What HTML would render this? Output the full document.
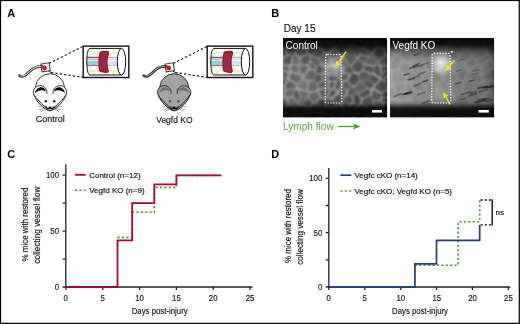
<!DOCTYPE html>
<html><head><meta charset="utf-8">
<style>
html,body{margin:0;padding:0;background:#fff;}
body{width:520px;height:324px;overflow:hidden;}
svg{display:block;font-family:"Liberation Sans",sans-serif;will-change:transform;}
.dk text, text.dk{stroke:#151515;stroke-width:0.18px;}
</style></head>
<body>
<svg width="520" height="324" viewBox="0 0 520 324" style="color:#fff;--ear:#000;--eye:#000">
<defs>
  <linearGradient id="v1" x1="0" y1="0" x2="0" y2="1">
    <stop offset="0" stop-color="#080808"/>
    <stop offset="0.07" stop-color="#101010"/>
    <stop offset="0.2" stop-color="#555"/>
    <stop offset="0.3" stop-color="#707070"/>
    <stop offset="0.75" stop-color="#6a6a6a"/>
    <stop offset="0.84" stop-color="#3a3a3a"/>
    <stop offset="0.88" stop-color="#141414"/>
    <stop offset="1" stop-color="#0c0c0c"/>
  </linearGradient>
  <linearGradient id="v2" x1="0" y1="0" x2="0" y2="1">
    <stop offset="0" stop-color="#080808"/>
    <stop offset="0.06" stop-color="#151515"/>
    <stop offset="0.18" stop-color="#6a6a6a"/>
    <stop offset="0.3" stop-color="#8a8a8a"/>
    <stop offset="0.7" stop-color="#808080"/>
    <stop offset="0.82" stop-color="#404040"/>
    <stop offset="0.88" stop-color="#151515"/>
    <stop offset="1" stop-color="#0c0c0c"/>
  </linearGradient>
  <radialGradient id="glow" cx="0.5" cy="0.5" r="0.5">
    <stop offset="0" stop-color="#fff" stop-opacity="0.55"/>
    <stop offset="1" stop-color="#fff" stop-opacity="0"/>
  </radialGradient>
  <pattern id="hex" patternUnits="userSpaceOnUse" x="86.5" y="46" width="6.93" height="12.00">
    <path d="M0 2.00 L3.46 0 L6.93 2.00 L6.93 6.00 L3.46 8.00 L0 6.00 Z M3.46 8.00 L3.46 12.00" fill="none" stroke="#d3de72" stroke-width="0.8"/>
  </pattern>
  <clipPath id="cyl"><path d="M121.5 48.4 H90 C87.8 48.4 86.8 55 86.8 61.7 C86.8 68.4 87.8 75 90 75 H121.5 Z"/></clipPath>
  <filter id="cellf" x="0" y="0" width="1" height="1" color-interpolation-filters="sRGB">
    <feTurbulence type="fractalNoise" baseFrequency="0.11" numOctaves="2" seed="7" result="n"/>
    <feColorMatrix type="matrix" values="0 0 0 0 1  0 0 0 0 1  0 0 0 0 1  1 0 0 0 0" in="n"/>
    <feComponentTransfer><feFuncA type="table" tableValues="0 0 0 0.9 0 0 0"/></feComponentTransfer>
    <feGaussianBlur stdDeviation="0.5"/>
  </filter>
  <filter id="cellf2" x="0" y="0" width="1" height="1" color-interpolation-filters="sRGB">
    <feTurbulence type="fractalNoise" baseFrequency="0.1" numOctaves="2" seed="19" result="n"/>
    <feColorMatrix type="matrix" values="0 0 0 0 1  0 0 0 0 1  0 0 0 0 1  1 0 0 0 0" in="n"/>
    <feComponentTransfer><feFuncA type="table" tableValues="0 0 0 0.9 0 0 0"/></feComponentTransfer>
    <feGaussianBlur stdDeviation="0.5"/>
  </filter>
  <filter id="blotf" x="0" y="0" width="1" height="1" color-interpolation-filters="sRGB">
    <feTurbulence type="fractalNoise" baseFrequency="0.08" numOctaves="2" seed="3" result="n"/>
    <feColorMatrix type="matrix" values="0 0 0 0 0  0 0 0 0 0  0 0 0 0 0  -1.6 0 0 0 1.0" in="n"/>
  </filter>
  <linearGradient id="mg" x1="0" y1="0" x2="0" y2="1">
    <stop offset="0.05" stop-color="#000"/>
    <stop offset="0.25" stop-color="#fff"/>
    <stop offset="0.78" stop-color="#fff"/>
    <stop offset="0.88" stop-color="#000"/>
  </linearGradient>
  <mask id="mk1" maskUnits="userSpaceOnUse" x="283" y="38" width="104.2" height="79.5"><rect x="283" y="38" width="104.2" height="79.5" fill="url(#mg)"/></mask>
  <mask id="mk2" maskUnits="userSpaceOnUse" x="390" y="38" width="104.2" height="79.5"><rect x="390" y="38" width="104.2" height="79.5" fill="url(#mg)"/></mask>
</defs>

<!-- frame -->
<rect x="0.5" y="0.5" width="518.8" height="322.8" fill="#fff" stroke="#000" stroke-width="1.2"/>

<!-- panel labels -->
<g font-weight="bold" font-size="11" fill="#000">
  <text x="7.3" y="17">A</text>
  <text x="271.3" y="17">B</text>
  <text x="7.2" y="158">C</text>
  <text x="271.2" y="158.3">D</text>
</g>

<!-- ===== Panel B ===== -->
<text class="dk" x="283.8" y="32.1" font-size="10" fill="#1a1a1a">Day 15</text>
<defs><linearGradient id="mch" x1="0" y1="0" x2="1" y2="0"><stop offset="0.000" stop-color="rgb(125,125,125)"/><stop offset="0.150" stop-color="rgb(122,122,122)"/><stop offset="0.300" stop-color="rgb(112,112,112)"/><stop offset="0.400" stop-color="rgb(110,110,110)"/><stop offset="0.500" stop-color="rgb(115,115,115)"/><stop offset="0.600" stop-color="rgb(110,110,110)"/><stop offset="0.750" stop-color="rgb(106,106,106)"/><stop offset="0.920" stop-color="rgb(104,104,104)"/><stop offset="0.970" stop-color="rgb(85,85,85)"/><stop offset="1.000" stop-color="rgb(65,65,65)"/></linearGradient><linearGradient id="mcv" x1="0" y1="0" x2="0" y2="1"><stop offset="0.000" stop-color="#000" stop-opacity="0.900"/><stop offset="0.070" stop-color="#000" stop-opacity="0.880"/><stop offset="0.100" stop-color="#000" stop-opacity="0.780"/><stop offset="0.140" stop-color="#000" stop-opacity="0.550"/><stop offset="0.190" stop-color="#000" stop-opacity="0.280"/><stop offset="0.250" stop-color="#000" stop-opacity="0.080"/><stop offset="0.300" stop-color="#000" stop-opacity="0.000"/><stop offset="0.780" stop-color="#000" stop-opacity="0.000"/><stop offset="0.820" stop-color="#000" stop-opacity="0.150"/><stop offset="0.850" stop-color="#000" stop-opacity="0.450"/><stop offset="0.875" stop-color="#000" stop-opacity="0.780"/><stop offset="0.900" stop-color="#000" stop-opacity="0.870"/><stop offset="1.000" stop-color="#000" stop-opacity="0.890"/></linearGradient><clipPath id="mcc"><rect x="283" y="38" width="104.2" height="79.5"/></clipPath><filter id="mcb1" x="-5%" y="-5%" width="110%" height="110%"><feGaussianBlur stdDeviation="1.8"/></filter><filter id="mcb2" x="-5%" y="-5%" width="110%" height="110%"><feGaussianBlur stdDeviation="0.8"/></filter><radialGradient id="mcg0"><stop offset="0" stop-color="#fff" stop-opacity="0.5"/><stop offset="0.5" stop-color="#fff" stop-opacity="0.275"/><stop offset="1" stop-color="#fff" stop-opacity="0"/></radialGradient><radialGradient id="mcg1"><stop offset="0" stop-color="#fff" stop-opacity="0.15"/><stop offset="0.5" stop-color="#fff" stop-opacity="0.083"/><stop offset="1" stop-color="#fff" stop-opacity="0"/></radialGradient><linearGradient id="mvh" x1="0" y1="0" x2="1" y2="0"><stop offset="0.000" stop-color="rgb(165,165,165)"/><stop offset="0.150" stop-color="rgb(160,160,160)"/><stop offset="0.300" stop-color="rgb(148,148,148)"/><stop offset="0.420" stop-color="rgb(142,142,142)"/><stop offset="0.550" stop-color="rgb(145,145,145)"/><stop offset="0.650" stop-color="rgb(132,132,132)"/><stop offset="0.800" stop-color="rgb(126,126,126)"/><stop offset="0.920" stop-color="rgb(120,120,120)"/><stop offset="0.970" stop-color="rgb(100,100,100)"/><stop offset="1.000" stop-color="rgb(78,78,78)"/></linearGradient><linearGradient id="mvv" x1="0" y1="0" x2="0" y2="1"><stop offset="0.000" stop-color="#000" stop-opacity="0.900"/><stop offset="0.070" stop-color="#000" stop-opacity="0.880"/><stop offset="0.100" stop-color="#000" stop-opacity="0.750"/><stop offset="0.140" stop-color="#000" stop-opacity="0.500"/><stop offset="0.190" stop-color="#000" stop-opacity="0.250"/><stop offset="0.250" stop-color="#000" stop-opacity="0.070"/><stop offset="0.300" stop-color="#000" stop-opacity="0.000"/><stop offset="0.780" stop-color="#000" stop-opacity="0.000"/><stop offset="0.820" stop-color="#000" stop-opacity="0.200"/><stop offset="0.850" stop-color="#000" stop-opacity="0.500"/><stop offset="0.880" stop-color="#000" stop-opacity="0.800"/><stop offset="0.910" stop-color="#000" stop-opacity="0.880"/><stop offset="1.000" stop-color="#000" stop-opacity="0.900"/></linearGradient><clipPath id="mvc"><rect x="390" y="38" width="104.2" height="79.5"/></clipPath><filter id="mvb1" x="-5%" y="-5%" width="110%" height="110%"><feGaussianBlur stdDeviation="1.8"/></filter><filter id="mvb2" x="-5%" y="-5%" width="110%" height="110%"><feGaussianBlur stdDeviation="0.8"/></filter><filter id="mvb3" x="-5%" y="-5%" width="110%" height="110%"><feGaussianBlur stdDeviation="0.75"/></filter><radialGradient id="mvg0"><stop offset="0" stop-color="#fff" stop-opacity="0.85"/><stop offset="0.5" stop-color="#fff" stop-opacity="0.468"/><stop offset="1" stop-color="#fff" stop-opacity="0"/></radialGradient><radialGradient id="mvg1"><stop offset="0" stop-color="#fff" stop-opacity="0.2"/><stop offset="0.5" stop-color="#fff" stop-opacity="0.110"/><stop offset="1" stop-color="#fff" stop-opacity="0"/></radialGradient></defs>
<g clip-path="url(#mcc)">
<rect x="283" y="38" width="104.2" height="79.5" fill="url(#mch)"/>
<g filter="url(#mcb1)">
<path d="M280.1 28.6 L274.6 24.9 L271.3 29.4 L278.6 33.7Z" fill="#000" fill-opacity="0.27"/>
<path d="M347.2 28.7 L349.9 25.7 L355.9 26.1 L357.1 32.0 L352.2 35.4Z" fill="#000" fill-opacity="0.21"/>
<path d="M363.1 34.8 L358.5 32.0 L357.4 26.1 L359.3 23.8 L363.3 23.7 L368.0 29.5 L364.5 35.0Z" fill="#000" fill-opacity="0.25"/>
<path d="M289.5 30.5 L283.3 38.1 L279.5 36.4 L279.6 34.2 L281.1 29.2 L282.1 28.7Z" fill="#000" fill-opacity="0.16"/>
<path d="M296.2 33.9 L297.1 37.3 L296.8 37.9 L294.9 39.8 L286.3 40.2 L284.8 38.6 L291.0 31.0 L292.7 30.7Z" fill="#000" fill-opacity="0.11"/>
<path d="M304.4 27.4 L298.0 33.5 L298.9 37.0 L307.2 38.1 L308.3 37.3 L309.2 30.8Z" fill="#000" fill-opacity="0.26"/>
<path d="M311.7 30.0 L310.5 30.6 L309.6 37.2 L317.3 37.8 L314.1 29.5Z" fill="#000" fill-opacity="0.21"/>
<path d="M318.5 27.0 L323.0 33.3 L320.5 38.7 L318.3 37.9 L315.1 29.5Z" fill="#000" fill-opacity="0.32"/>
<path d="M324.4 33.8 L330.9 31.1 L333.7 34.4 L333.7 34.9 L331.4 41.3 L322.5 40.8 L321.9 39.2Z" fill="#000" fill-opacity="0.16"/>
<path d="M340.2 40.4 L335.3 34.8 L335.3 34.3 L341.4 33.6 L343.3 36.9Z" fill="#000" fill-opacity="0.30"/>
<path d="M344.4 36.6 L342.5 33.3 L344.7 30.0 L346.3 29.4 L351.3 36.1 L349.7 39.3Z" fill="#000" fill-opacity="0.34"/>
<path d="M351.7 44.1 L351.9 44.1 L362.0 36.4 L362.1 36.2 L357.5 33.4 L352.6 36.8 L351.0 39.9Z" fill="#000" fill-opacity="0.32"/>
<path d="M374.0 29.1 L369.3 30.4 L365.8 35.9 L368.2 39.0 L374.4 40.4Z" fill="#000" fill-opacity="0.33"/>
<path d="M383.0 34.6 L376.3 40.7 L375.6 40.2 L375.2 28.9 L376.4 27.9 L378.4 27.8 L382.8 33.7Z" fill="#000" fill-opacity="0.14"/>
<path d="M388.7 36.5 L387.8 36.8 L384.4 34.7 L384.3 33.7 L388.8 29.5 L393.3 30.3Z" fill="#000" fill-opacity="0.14"/>
<path d="M397.4 37.9 L401.0 33.0 L395.1 30.1 L394.4 30.3 L389.9 36.5Z" fill="#000" fill-opacity="0.16"/>
<path d="M282.8 39.6 L279.0 38.0 L273.7 41.3 L274.5 45.6 L278.0 48.1 L283.6 47.4 L284.3 41.2Z" fill="#000" fill-opacity="0.19"/>
<path d="M294.4 41.1 L293.7 45.0 L286.2 48.9 L285.0 47.7 L285.8 41.5Z" fill="#000" fill-opacity="0.13"/>
<path d="M297.5 39.2 L302.3 47.9 L296.1 49.0 L295.0 44.9 L295.6 41.1Z" fill="#000" fill-opacity="0.14"/>
<path d="M307.1 39.5 L308.3 47.2 L307.2 49.8 L303.3 47.8 L298.5 39.0 L298.8 38.4Z" fill="#000" fill-opacity="0.11"/>
<path d="M317.7 39.1 L310.0 38.4 L308.9 39.1 L310.0 46.9 L320.1 43.7 L320.5 41.5 L319.9 39.9Z" fill="#000" fill-opacity="0.32"/>
<path d="M333.7 48.1 L333.9 46.9 L331.2 42.9 L322.3 42.4 L321.8 44.6 L322.3 47.1 L325.2 52.4 L327.3 52.9Z" fill="#000" fill-opacity="0.19"/>
<path d="M339.8 41.3 L334.9 35.7 L332.6 42.1 L335.3 46.1 L339.4 44.0Z" fill="#000" fill-opacity="0.25"/>
<path d="M341.4 41.5 L344.4 37.9 L349.7 40.6 L350.4 44.7 L350.2 44.8 L348.6 46.0 L340.9 44.2Z" fill="#000" fill-opacity="0.21"/>
<path d="M362.3 36.9 L352.2 44.7 L357.6 46.0Z" fill="#000" fill-opacity="0.28"/>
<path d="M363.7 47.3 L367.2 40.0 L364.7 36.9 L363.2 36.7 L363.2 36.8 L358.5 45.8 L361.7 47.9Z" fill="#000" fill-opacity="0.29"/>
<path d="M372.2 52.4 L376.8 46.3 L375.4 42.5 L374.7 42.0 L368.5 40.6 L365.0 47.9Z" fill="#000" fill-opacity="0.19"/>
<path d="M383.7 36.0 L377.0 42.0 L378.4 45.8 L383.1 47.3 L387.5 44.4 L387.1 38.1Z" fill="#000" fill-opacity="0.23"/>
<path d="M396.9 39.1 L396.4 44.0 L394.2 45.7 L389.0 44.3 L388.5 38.0 L389.4 37.7Z" fill="#000" fill-opacity="0.13"/>
<path d="M272.2 58.0 L277.1 54.3 L277.1 49.5 L273.6 47.0 L268.2 52.9Z" fill="#000" fill-opacity="0.17"/>
<path d="M287.0 54.4 L283.7 57.4 L278.5 54.3 L278.5 49.5 L284.1 48.8 L285.3 50.0Z" fill="#000" fill-opacity="0.16"/>
<path d="M294.4 54.2 L291.9 55.0 L288.3 54.2 L286.6 49.9 L294.2 46.0 L295.3 50.1Z" fill="#000" fill-opacity="0.18"/>
<path d="M300.8 57.0 L295.9 54.4 L296.8 50.3 L303.0 49.2 L306.9 51.2 L307.3 53.9Z" fill="#000" fill-opacity="0.18"/>
<path d="M310.4 54.6 L320.2 47.5 L319.7 45.0 L309.6 48.2 L308.6 50.8 L309.0 53.5Z" fill="#000" fill-opacity="0.24"/>
<path d="M311.4 55.6 L318.9 57.8 L323.7 53.4 L320.8 48.1 L311.1 55.2Z" fill="#000" fill-opacity="0.18"/>
<path d="M334.7 49.2 L328.3 54.0 L331.3 59.0 L340.0 55.3Z" fill="#000" fill-opacity="0.18"/>
<path d="M335.9 48.7 L336.1 47.5 L340.2 45.4 L347.8 47.3 L344.7 54.2 L343.3 55.5 L342.9 55.5 L341.2 54.8Z" fill="#000" fill-opacity="0.30"/>
<path d="M350.8 46.1 L355.2 56.4 L346.1 54.2 L349.1 47.2Z" fill="#000" fill-opacity="0.10"/>
<path d="M359.2 54.0 L357.3 57.2 L356.0 56.2 L351.6 45.9 L351.7 45.8 L352.0 45.8 L357.3 47.1 L360.6 49.1Z" fill="#000" fill-opacity="0.10"/>
<path d="M369.6 56.1 L360.8 54.4 L362.3 49.5 L364.2 49.0 L371.4 53.6 L371.4 54.8Z" fill="#000" fill-opacity="0.12"/>
<path d="M373.1 54.9 L377.8 60.3 L384.8 54.9 L382.4 49.0 L377.7 47.5 L373.1 53.6Z" fill="#000" fill-opacity="0.31"/>
<path d="M393.9 54.7 L393.8 47.1 L388.5 45.8 L384.1 48.6 L386.5 54.6 L390.6 56.3Z" fill="#000" fill-opacity="0.25"/>
<path d="M282.9 58.5 L277.8 55.5 L272.8 59.2 L272.9 59.8 L279.7 65.1 L281.8 63.6Z" fill="#000" fill-opacity="0.28"/>
<path d="M291.2 64.3 L291.4 56.4 L287.8 55.6 L284.4 58.6 L283.3 63.7 L289.7 65.4Z" fill="#000" fill-opacity="0.33"/>
<path d="M292.5 64.3 L292.6 56.4 L295.1 55.6 L300.0 58.2 L299.5 63.7 L298.8 64.6Z" fill="#000" fill-opacity="0.15"/>
<path d="M301.1 63.5 L307.7 64.7 L309.6 60.9 L309.8 56.4 L309.5 56.0 L308.1 54.9 L301.5 58.0Z" fill="#000" fill-opacity="0.32"/>
<path d="M310.9 61.2 L317.0 66.5 L319.6 64.3 L318.6 59.0 L311.1 56.7Z" fill="#000" fill-opacity="0.16"/>
<path d="M327.1 54.8 L325.0 54.4 L320.2 58.8 L321.1 64.1 L326.7 66.0 L330.2 63.5 L330.1 59.8Z" fill="#000" fill-opacity="0.23"/>
<path d="M340.4 56.3 L342.1 57.1 L337.3 65.5 L336.5 65.7 L331.8 63.7 L331.7 60.0Z" fill="#000" fill-opacity="0.26"/>
<path d="M348.2 65.0 L343.6 57.2 L343.1 57.2 L338.2 65.7 L343.1 67.4Z" fill="#000" fill-opacity="0.29"/>
<path d="M356.6 58.6 L355.3 57.6 L346.2 55.5 L344.8 56.8 L349.5 64.6 L350.9 65.1 L356.7 58.9Z" fill="#000" fill-opacity="0.16"/>
<path d="M368.8 56.9 L363.6 62.5 L358.2 58.7 L358.2 58.4 L360.1 55.2Z" fill="#000" fill-opacity="0.22"/>
<path d="M370.3 57.4 L365.1 63.0 L365.3 64.2 L374.3 65.4 L376.9 63.3 L376.8 61.5 L372.2 56.1Z" fill="#000" fill-opacity="0.11"/>
<path d="M389.7 57.8 L389.1 65.2 L380.2 64.4 L378.7 63.3 L378.6 61.5 L385.6 56.1Z" fill="#000" fill-opacity="0.17"/>
<path d="M397.8 64.6 L390.7 65.3 L390.6 65.2 L391.2 57.8 L394.5 56.1 L396.3 56.7Z" fill="#000" fill-opacity="0.34"/>
<path d="M275.7 71.8 L276.9 71.3 L278.3 68.8 L279.1 66.2 L272.3 60.9 L267.5 65.9 L268.8 68.6Z" fill="#000" fill-opacity="0.32"/>
<path d="M289.3 66.6 L282.9 64.8 L280.8 66.4 L280.0 68.9 L289.2 72.6 L289.9 71.8Z" fill="#000" fill-opacity="0.24"/>
<path d="M292.1 65.5 L298.5 65.8 L299.1 72.8 L291.3 71.8 L290.7 66.6Z" fill="#000" fill-opacity="0.29"/>
<path d="M299.8 65.9 L300.5 65.0 L307.1 66.2 L308.2 69.1 L302.6 75.8 L300.4 72.9Z" fill="#000" fill-opacity="0.32"/>
<path d="M308.4 65.8 L309.5 68.7 L315.1 69.5 L316.4 67.2 L310.3 62.0Z" fill="#000" fill-opacity="0.18"/>
<path d="M320.3 65.6 L325.9 67.5 L325.9 72.2 L320.3 73.3 L317.0 72.8 L316.4 70.0 L317.7 67.7Z" fill="#000" fill-opacity="0.34"/>
<path d="M327.4 67.5 L327.5 72.2 L328.6 74.2 L335.1 73.8 L335.6 67.0 L330.9 65.0Z" fill="#000" fill-opacity="0.21"/>
<path d="M339.2 76.8 L336.4 73.9 L336.9 67.2 L337.6 66.9 L342.5 68.7 L342.5 72.4Z" fill="#000" fill-opacity="0.14"/>
<path d="M343.9 72.2 L343.8 68.5 L349.0 66.1 L350.5 66.7 L353.0 71.7 L350.1 73.9Z" fill="#000" fill-opacity="0.23"/>
<path d="M357.8 60.0 L352.0 66.2 L354.6 71.3 L358.2 72.8 L362.3 69.7 L363.4 65.0 L363.1 63.8Z" fill="#000" fill-opacity="0.24"/>
<path d="M364.9 65.4 L373.9 66.6 L371.7 72.6 L370.4 72.9 L363.8 70.1Z" fill="#000" fill-opacity="0.27"/>
<path d="M380.0 77.3 L373.0 72.6 L375.3 66.7 L377.9 64.5 L379.3 65.7 L381.1 73.2Z" fill="#000" fill-opacity="0.26"/>
<path d="M389.6 66.3 L389.7 68.8 L382.4 72.9 L380.6 65.4 L389.5 66.2Z" fill="#000" fill-opacity="0.11"/>
<path d="M401.3 67.6 L395.5 74.2 L391.8 70.5 L391.0 69.0 L390.8 66.5 L397.9 65.8Z" fill="#000" fill-opacity="0.25"/>
<path d="M279.0 84.8 L278.6 84.8 L272.5 80.0 L276.2 73.5 L277.4 73.0 L281.7 77.4Z" fill="#000" fill-opacity="0.32"/>
<path d="M287.4 77.3 L288.9 73.4 L279.7 69.7 L278.3 72.2 L282.6 76.7Z" fill="#000" fill-opacity="0.26"/>
<path d="M291.4 73.0 L290.6 73.9 L289.1 77.7 L289.8 79.0 L297.0 83.3 L301.7 78.6 L301.4 77.0 L299.2 74.1Z" fill="#000" fill-opacity="0.33"/>
<path d="M309.2 70.0 L314.7 70.9 L315.4 73.6 L312.9 80.1 L307.8 79.9 L303.9 78.4 L303.6 76.8Z" fill="#000" fill-opacity="0.22"/>
<path d="M316.6 74.1 L314.2 80.5 L317.1 83.2 L322.3 80.2 L320.0 74.6Z" fill="#000" fill-opacity="0.29"/>
<path d="M321.0 74.3 L326.6 73.2 L327.7 75.1 L326.9 78.9 L323.4 79.8Z" fill="#000" fill-opacity="0.14"/>
<path d="M338.6 79.2 L335.7 80.9 L329.3 80.8 L328.1 79.2 L328.9 75.4 L335.5 75.0 L338.3 77.9Z" fill="#000" fill-opacity="0.32"/>
<path d="M340.1 79.1 L342.1 80.6 L346.1 80.3 L349.3 75.1 L343.1 73.4 L339.8 77.8Z" fill="#000" fill-opacity="0.21"/>
<path d="M350.9 75.3 L353.8 73.1 L357.5 74.7 L358.8 80.6 L354.4 85.5 L352.8 85.2 L347.7 80.5Z" fill="#000" fill-opacity="0.31"/>
<path d="M361.6 80.6 L368.0 78.4 L369.6 74.0 L363.0 71.2 L359.0 74.2 L360.3 80.1Z" fill="#000" fill-opacity="0.18"/>
<path d="M374.5 84.5 L379.8 79.3 L379.6 78.5 L372.5 73.9 L371.2 74.2 L369.7 78.6Z" fill="#000" fill-opacity="0.25"/>
<path d="M390.3 71.5 L383.5 79.7 L381.3 78.9 L381.1 78.1 L382.2 74.0 L389.5 69.9Z" fill="#000" fill-opacity="0.30"/>
<path d="M394.9 75.5 L391.2 71.9 L384.5 80.1 L386.3 81.3 L393.4 79.7 L395.3 77.6Z" fill="#000" fill-opacity="0.27"/>
<path d="M287.5 78.4 L282.7 77.8 L280.0 85.2 L283.6 86.5 L288.2 79.7Z" fill="#000" fill-opacity="0.25"/>
<path d="M289.2 80.4 L296.4 84.7 L295.8 87.9 L295.5 88.1 L286.1 88.9 L284.6 87.2Z" fill="#000" fill-opacity="0.33"/>
<path d="M297.9 88.3 L297.3 87.8 L298.0 84.6 L302.7 79.9 L306.6 81.4 L307.0 90.7Z" fill="#000" fill-opacity="0.12"/>
<path d="M309.8 92.3 L317.2 89.7 L317.5 88.9 L316.4 84.5 L313.5 81.8 L308.3 81.6 L308.7 90.9Z" fill="#000" fill-opacity="0.13"/>
<path d="M323.2 81.0 L326.7 80.0 L327.8 81.6 L328.0 87.2 L319.1 88.3 L318.0 84.0Z" fill="#000" fill-opacity="0.23"/>
<path d="M329.2 87.5 L328.9 81.9 L335.4 82.0 L333.0 88.6 L330.4 88.6Z" fill="#000" fill-opacity="0.33"/>
<path d="M339.4 80.1 L336.4 81.9 L334.1 88.5 L338.0 90.6 L341.0 86.5 L341.3 81.7Z" fill="#000" fill-opacity="0.27"/>
<path d="M342.5 81.7 L342.1 86.5 L347.4 89.1 L351.7 86.1 L346.5 81.4Z" fill="#000" fill-opacity="0.18"/>
<path d="M358.5 92.5 L366.5 88.2 L361.0 82.2 L359.7 81.7 L355.3 86.7 L357.2 91.7Z" fill="#000" fill-opacity="0.13"/>
<path d="M368.0 87.9 L362.5 81.9 L368.9 79.7 L373.8 85.6 L372.6 88.4 L371.5 89.0Z" fill="#000" fill-opacity="0.21"/>
<path d="M374.3 88.4 L381.3 92.3 L386.1 89.1 L384.8 82.5 L383.0 81.3 L380.8 80.5 L375.5 85.6Z" fill="#000" fill-opacity="0.22"/>
<path d="M387.9 89.4 L395.1 88.9 L393.3 81.0 L386.1 82.5 L387.5 89.2Z" fill="#000" fill-opacity="0.21"/>
<path d="M278.4 97.3 L283.6 96.1 L284.5 89.7 L283.0 87.9 L279.4 86.6 L279.0 86.6 L275.1 92.5Z" fill="#000" fill-opacity="0.25"/>
<path d="M286.7 97.9 L284.9 96.6 L285.8 90.1 L295.1 89.3 L292.0 96.0Z" fill="#000" fill-opacity="0.17"/>
<path d="M298.0 102.1 L293.2 95.9 L296.3 89.2 L296.6 89.0 L297.2 89.6 L300.2 95.6Z" fill="#000" fill-opacity="0.31"/>
<path d="M301.4 95.6 L298.3 89.5 L307.4 91.9 L308.5 93.2 L307.5 96.1Z" fill="#000" fill-opacity="0.17"/>
<path d="M308.9 97.2 L313.2 101.7 L315.5 101.2 L319.4 97.2 L317.3 91.2 L309.8 93.8 L308.8 96.7Z" fill="#000" fill-opacity="0.13"/>
<path d="M325.0 98.0 L327.1 97.2 L329.3 89.6 L328.1 88.6 L319.1 89.7 L318.9 90.6 L321.1 96.6Z" fill="#000" fill-opacity="0.19"/>
<path d="M328.4 97.3 L330.6 89.7 L333.3 89.7 L337.2 91.9 L337.5 92.7 L331.2 98.0Z" fill="#000" fill-opacity="0.32"/>
<path d="M343.1 97.1 L338.8 92.6 L338.6 91.8 L341.6 87.6 L346.8 90.2 L345.2 95.6Z" fill="#000" fill-opacity="0.14"/>
<path d="M356.0 92.3 L354.0 87.3 L352.5 87.0 L348.2 90.0 L346.6 95.4 L352.2 95.3Z" fill="#000" fill-opacity="0.17"/>
<path d="M359.4 93.4 L367.5 89.1 L371.0 90.2 L369.9 94.7 L362.1 98.0Z" fill="#000" fill-opacity="0.32"/>
<path d="M372.5 90.5 L373.6 89.8 L380.6 93.7 L380.8 97.0 L380.2 99.0 L373.8 100.5 L371.4 95.0Z" fill="#000" fill-opacity="0.18"/>
<path d="M382.3 96.7 L382.0 93.5 L386.8 90.3 L387.3 90.5 L389.7 97.0Z" fill="#000" fill-opacity="0.30"/>
<path d="M392.2 98.4 L396.0 93.6 L395.6 90.0 L395.6 90.0 L388.4 90.5 L390.8 96.9Z" fill="#000" fill-opacity="0.11"/>
<path d="M282.7 108.1 L282.6 108.1 L278.0 100.6 L278.7 99.1 L283.9 97.9 L285.8 99.1 L287.4 104.7Z" fill="#000" fill-opacity="0.31"/>
<path d="M297.6 105.0 L294.6 106.8 L288.9 104.7 L287.4 99.2 L292.6 97.3 L297.4 103.5Z" fill="#000" fill-opacity="0.16"/>
<path d="M301.5 105.0 L307.3 97.9 L307.1 97.3 L301.0 96.8 L298.7 103.3 L298.9 104.8 L300.4 105.2Z" fill="#000" fill-opacity="0.14"/>
<path d="M302.4 105.3 L309.7 106.8 L312.4 102.6 L308.2 98.1Z" fill="#000" fill-opacity="0.28"/>
<path d="M324.7 99.5 L325.2 106.8 L321.9 110.3 L316.8 102.1 L320.7 98.1Z" fill="#000" fill-opacity="0.34"/>
<path d="M325.9 99.5 L328.0 98.7 L330.8 99.5 L335.9 105.0 L333.6 107.4 L326.4 106.7Z" fill="#000" fill-opacity="0.33"/>
<path d="M340.5 103.8 L337.2 104.6 L332.1 99.1 L338.3 93.7 L342.5 98.2 L342.2 101.4Z" fill="#000" fill-opacity="0.28"/>
<path d="M351.7 96.6 L346.0 96.7 L343.9 98.2 L343.6 101.4 L350.0 103.1 L352.7 103.2Z" fill="#000" fill-opacity="0.32"/>
<path d="M358.1 94.3 L360.8 99.0 L360.3 103.4 L357.5 105.1 L354.0 103.1 L353.1 96.5 L356.8 93.5Z" fill="#000" fill-opacity="0.34"/>
<path d="M362.4 99.3 L370.1 96.0 L372.5 101.5 L371.7 103.6 L367.4 106.0 L361.8 103.7Z" fill="#000" fill-opacity="0.23"/>
<path d="M380.5 100.5 L374.1 102.0 L373.3 104.0 L378.8 109.9 L379.8 109.7 L382.1 102.8Z" fill="#000" fill-opacity="0.14"/>
<path d="M381.9 99.8 L382.5 97.7 L389.9 98.0 L391.3 99.4 L391.5 100.6 L389.0 103.1 L383.5 102.1Z" fill="#000" fill-opacity="0.30"/>
<path d="M277.1 101.3 L281.6 108.7 L274.1 112.2 L272.5 104.5Z" fill="#000" fill-opacity="0.20"/>
<path d="M294.0 107.7 L288.4 105.7 L283.6 109.1 L286.2 113.9 L293.5 109.8Z" fill="#000" fill-opacity="0.18"/>
<path d="M299.8 106.7 L301.9 112.5 L299.8 117.9 L295.8 116.8 L294.8 110.1 L295.3 108.0 L298.3 106.3Z" fill="#000" fill-opacity="0.22"/>
<path d="M302.1 106.3 L309.4 107.8 L310.6 111.5 L309.6 113.5 L303.1 112.3 L301.0 106.4Z" fill="#000" fill-opacity="0.11"/>
<path d="M320.6 111.5 L312.2 111.3 L311.0 107.6 L313.7 103.4 L316.0 102.9 L321.1 111.1 L321.0 111.4Z" fill="#000" fill-opacity="0.11"/>
<path d="M322.7 111.9 L322.8 111.5 L326.0 108.1 L333.3 108.7 L333.1 112.8 L332.0 114.2 L324.1 113.9Z" fill="#000" fill-opacity="0.16"/>
<path d="M343.4 110.6 L340.6 115.3 L334.7 112.5 L334.9 108.4 L337.1 106.0 L340.4 105.3Z" fill="#000" fill-opacity="0.24"/>
<path d="M347.5 111.1 L349.6 104.1 L343.2 102.4 L341.4 104.8 L344.4 110.2Z" fill="#000" fill-opacity="0.28"/>
<path d="M356.8 106.5 L355.1 112.6 L353.9 114.4 L348.7 111.5 L350.7 104.4 L353.4 104.5Z" fill="#000" fill-opacity="0.33"/>
<path d="M361.1 104.9 L366.7 107.2 L367.5 113.3 L366.6 113.7 L356.6 112.7 L358.3 106.7Z" fill="#000" fill-opacity="0.30"/>
<path d="M368.9 113.4 L373.5 116.4 L377.9 110.8 L372.4 104.9 L368.1 107.3Z" fill="#000" fill-opacity="0.33"/>
<path d="M383.3 103.4 L388.8 104.4 L388.9 112.2 L386.8 112.4 L380.9 110.3Z" fill="#000" fill-opacity="0.25"/>
<path d="M389.8 104.2 L390.0 112.0 L392.3 113.2 L399.5 104.9 L392.3 101.7Z" fill="#000" fill-opacity="0.28"/>
<path d="M282.3 109.9 L282.2 109.9 L274.7 113.4 L274.7 113.5 L278.9 120.2 L285.0 120.5 L284.9 114.7Z" fill="#000" fill-opacity="0.24"/>
<path d="M294.5 117.8 L293.6 111.1 L286.3 115.2 L286.3 121.0 L286.6 121.2 L289.8 121.1Z" fill="#000" fill-opacity="0.12"/>
<path d="M303.1 113.5 L301.0 118.9 L304.4 122.2 L309.1 120.2 L309.5 114.8Z" fill="#000" fill-opacity="0.12"/>
<path d="M320.2 112.8 L311.7 112.6 L310.7 114.7 L310.3 120.1 L313.4 121.5 L313.9 121.4Z" fill="#000" fill-opacity="0.28"/>
<path d="M323.9 119.7 L323.1 114.8 L321.6 112.7 L321.3 112.9 L315.0 121.5 L320.1 122.8Z" fill="#000" fill-opacity="0.15"/>
<path d="M330.3 122.5 L332.1 121.1 L332.2 115.3 L324.3 115.0 L325.1 119.9Z" fill="#000" fill-opacity="0.29"/>
<path d="M333.3 115.1 L334.4 113.7 L340.3 116.5 L341.0 121.6 L333.3 121.0Z" fill="#000" fill-opacity="0.21"/>
<path d="M347.7 112.8 L352.9 115.7 L352.9 117.6 L349.5 121.8 L343.4 122.3 L342.6 121.6 L341.9 116.5 L344.7 111.8Z" fill="#000" fill-opacity="0.10"/>
<path d="M365.9 114.7 L361.1 121.2 L354.6 117.5 L354.7 115.5 L355.9 113.7Z" fill="#000" fill-opacity="0.24"/>
<path d="M368.3 114.8 L373.0 117.8 L373.4 120.1 L372.8 121.2 L367.4 124.7 L363.6 123.2 L362.6 121.7 L367.4 115.2Z" fill="#000" fill-opacity="0.21"/>
<path d="M379.0 111.5 L374.6 117.2 L375.0 119.4 L381.4 120.8 L385.8 113.5 L380.0 111.3Z" fill="#000" fill-opacity="0.12"/>
<path d="M387.2 113.8 L389.4 113.6 L391.7 114.9 L392.2 115.6 L392.5 121.2 L386.4 125.2 L382.8 121.1Z" fill="#000" fill-opacity="0.16"/>
<path d="M297.5 129.1 L291.1 121.9 L295.8 118.7 L299.9 119.7 L303.3 123.1 L301.9 127.7Z" fill="#000" fill-opacity="0.17"/>
<path d="M312.6 122.9 L312.7 129.9 L306.6 132.0 L303.4 128.1 L304.8 123.5 L309.6 121.4Z" fill="#000" fill-opacity="0.18"/>
<path d="M321.1 129.4 L316.0 131.3 L314.0 130.0 L313.9 122.9 L314.3 122.9 L319.4 124.3Z" fill="#000" fill-opacity="0.27"/>
<path d="M325.6 131.2 L322.4 129.4 L320.8 124.2 L324.6 121.0 L329.8 123.7 L329.2 129.8Z" fill="#000" fill-opacity="0.14"/>
<path d="M330.8 129.7 L333.8 131.5 L340.2 128.5 L341.7 123.6 L340.9 122.8 L333.2 122.2 L331.4 123.6Z" fill="#000" fill-opacity="0.21"/>
<path d="M356.7 130.9 L355.3 132.0 L353.2 129.1 L350.9 123.1 L354.3 118.9 L360.7 122.6 L361.7 124.1Z" fill="#000" fill-opacity="0.25"/>
<path d="M375.1 120.8 L374.5 121.9 L377.5 129.9 L385.0 126.4 L385.1 126.2 L381.5 122.1Z" fill="#000" fill-opacity="0.33"/>
</g>
<g filter="url(#mcb2)" fill="none" stroke="#fff" stroke-width="1.4" stroke-linejoin="round">
<path d="M385.5 81.9 Q388.1 80.6 389.6 81.0 T393.8 80.1" stroke-opacity="0.16" stroke-width="1.17"/>
<path d="M385.5 81.9 Q386.6 84.4 386.3 85.8 T387.1 89.7" stroke-opacity="0.16" stroke-width="1.17"/>
<path d="M396.0 89.4 Q393.2 89.6 391.8 89.7 T387.6 90.0" stroke-opacity="0.23" stroke-width="1.12"/>
<path d="M387.1 89.7 Q387.6 89.2 387.3 89.9 T387.6 90.0" stroke-opacity="0.15" stroke-width="1.38"/>
<path d="M377.9 63.6 Q378.0 64.5 378.7 64.2 T379.5 64.9" stroke-opacity="0.16" stroke-width="1.01"/>
<path d="M377.9 63.6 Q377.3 65.0 376.3 64.8 T374.8 66.1" stroke-opacity="0.23" stroke-width="1.55"/>
<path d="M379.5 64.9 Q381.0 67.7 380.6 69.3 T381.7 73.7" stroke-opacity="0.37" stroke-width="1.46"/>
<path d="M374.8 66.1 Q373.9 68.4 373.5 69.6 T372.2 73.1" stroke-opacity="0.12" stroke-width="1.14"/>
<path d="M372.2 73.1 Q374.9 75.0 376.3 75.8 T380.4 78.6" stroke-opacity="0.49" stroke-width="1.80"/>
<path d="M381.7 73.7 Q381.2 75.3 381.1 76.2 T380.4 78.6" stroke-opacity="0.37" stroke-width="1.09"/>
<path d="M381.7 73.7 Q384.7 72.3 386.0 71.3 T390.3 69.0" stroke-opacity="0.23" stroke-width="1.11"/>
<path d="M383.3 80.5 Q385.3 76.7 387.3 75.7 T391.3 70.8" stroke-opacity="0.38" stroke-width="1.61"/>
<path d="M383.3 80.5 Q382.3 80.5 382.1 80.0 T380.8 79.5" stroke-opacity="0.15" stroke-width="1.49"/>
<path d="M380.8 79.5 Q381.2 79.0 380.6 79.1 T380.4 78.6" stroke-opacity="0.47" stroke-width="1.20"/>
<path d="M390.3 69.0 Q390.3 69.8 390.8 69.9 T391.3 70.8" stroke-opacity="0.30" stroke-width="1.07"/>
<path d="M280.0 66.0 Q279.6 67.0 279.5 67.5 T279.1 69.0" stroke-opacity="0.22" stroke-width="1.27"/>
<path d="M279.1 69.0 Q278.2 69.8 278.2 70.5 T277.4 71.9" stroke-opacity="0.25" stroke-width="1.07"/>
<path d="M374.8 66.1 Q371.2 66.0 369.5 65.4 T364.2 64.6" stroke-opacity="0.49" stroke-width="1.29"/>
<path d="M370.6 73.5 Q371.3 74.0 371.4 73.3 T372.2 73.1" stroke-opacity="0.17" stroke-width="1.21"/>
<path d="M370.6 73.5 Q368.2 72.1 366.8 71.9 T362.9 70.2" stroke-opacity="0.48" stroke-width="1.29"/>
<path d="M362.9 70.2 Q363.8 68.5 363.6 67.4 T364.2 64.6" stroke-opacity="0.17" stroke-width="1.71"/>
<path d="M370.6 73.5 Q370.3 75.4 369.7 76.1 T368.8 78.7" stroke-opacity="0.10" stroke-width="1.36"/>
<path d="M380.8 79.5 Q378.5 81.4 377.6 82.6 T374.5 85.6" stroke-opacity="0.43" stroke-width="1.20"/>
<path d="M368.8 78.7 Q370.2 81.4 371.7 82.2 T374.5 85.6" stroke-opacity="0.19" stroke-width="1.11"/>
<path d="M385.5 81.9 Q384.7 81.5 384.4 81.2 T383.3 80.5" stroke-opacity="0.24" stroke-width="1.70"/>
<path d="M387.1 89.7 Q385.1 90.8 384.2 91.6 T381.4 93.4" stroke-opacity="0.24" stroke-width="1.66"/>
<path d="M381.4 93.4 Q378.6 91.9 377.3 91.2 T373.2 88.9" stroke-opacity="0.46" stroke-width="1.49"/>
<path d="M374.5 85.6 Q374.2 86.7 373.8 87.2 T373.2 88.9" stroke-opacity="0.46" stroke-width="1.62"/>
<path d="M379.5 64.9 Q383.0 65.8 384.8 65.4 T390.1 65.9" stroke-opacity="0.26" stroke-width="1.72"/>
<path d="M390.3 69.0 Q389.8 68.0 390.2 67.5 T390.2 66.0" stroke-opacity="0.30" stroke-width="1.16"/>
<path d="M390.1 65.9 Q390.3 65.8 390.1 66.0 T390.2 66.0" stroke-opacity="0.36" stroke-width="1.59"/>
<path d="M286.1 121.8 Q285.5 122.4 285.9 121.7 T285.8 121.6" stroke-opacity="0.40" stroke-width="1.15"/>
<path d="M278.7 121.2 Q281.0 121.4 282.2 121.4 T285.8 121.6" stroke-opacity="0.32" stroke-width="1.08"/>
<path d="M336.5 66.5 Q334.9 65.0 333.7 65.3 T331.0 64.1" stroke-opacity="0.32" stroke-width="1.26"/>
<path d="M336.5 66.5 Q336.1 69.1 336.2 70.5 T335.9 74.4" stroke-opacity="0.13" stroke-width="1.08"/>
<path d="M335.9 74.4 Q333.3 75.4 332.0 74.7 T328.1 74.9" stroke-opacity="0.18" stroke-width="1.51"/>
<path d="M328.1 74.9 Q327.8 74.1 327.5 73.8 T326.9 72.6" stroke-opacity="0.42" stroke-width="1.06"/>
<path d="M326.9 72.6 Q326.7 70.8 326.9 69.9 T326.8 67.1" stroke-opacity="0.25" stroke-width="1.05"/>
<path d="M331.0 64.1 Q330.0 65.7 328.9 65.6 T326.8 67.1" stroke-opacity="0.24" stroke-width="1.62"/>
<path d="M282.4 77.2 Q284.4 77.0 285.3 77.5 T288.1 77.9" stroke-opacity="0.17" stroke-width="1.22"/>
<path d="M282.4 77.2 Q281.4 80.1 280.8 81.5 T279.2 85.8" stroke-opacity="0.27" stroke-width="1.47"/>
<path d="M283.5 87.4 Q282.2 86.3 281.3 86.6 T279.2 85.8" stroke-opacity="0.41" stroke-width="1.46"/>
<path d="M283.5 87.4 Q285.4 84.8 286.2 83.3 T288.9 79.3" stroke-opacity="0.45" stroke-width="1.21"/>
<path d="M288.9 79.3 Q288.7 78.8 288.5 78.6 T288.1 77.9" stroke-opacity="0.46" stroke-width="1.49"/>
<path d="M279.1 69.0 Q282.3 71.3 284.5 71.2 T289.9 73.3" stroke-opacity="0.36" stroke-width="1.46"/>
<path d="M277.4 71.9 Q279.0 73.7 279.9 74.6 T282.4 77.2" stroke-opacity="0.31" stroke-width="1.26"/>
<path d="M289.9 73.3 Q289.0 74.7 289.0 75.6 T288.1 77.9" stroke-opacity="0.28" stroke-width="1.36"/>
<path d="M278.8 85.9 Q278.9 85.3 279.0 85.9 T279.2 85.8" stroke-opacity="0.36" stroke-width="1.09"/>
<path d="M285.2 89.4 Q288.9 88.7 290.7 88.9 T296.2 88.4" stroke-opacity="0.33" stroke-width="1.05"/>
<path d="M285.2 89.4 Q284.3 89.1 284.3 88.4 T283.5 87.4" stroke-opacity="0.27" stroke-width="1.01"/>
<path d="M296.2 88.4 Q296.8 89.0 296.4 88.3 T296.5 88.2" stroke-opacity="0.33" stroke-width="1.17"/>
<path d="M296.5 88.2 Q297.0 87.0 296.9 86.3 T297.3 84.4" stroke-opacity="0.21" stroke-width="1.38"/>
<path d="M297.3 84.4 Q294.6 82.6 293.1 81.9 T288.9 79.3" stroke-opacity="0.37" stroke-width="1.21"/>
<path d="M273.7 113.2 Q276.3 111.2 278.1 111.1 T282.5 109.1" stroke-opacity="0.21" stroke-width="1.49"/>
<path d="M282.5 109.1 Q280.6 106.2 279.9 104.7 T277.2 100.3" stroke-opacity="0.12" stroke-width="1.48"/>
<path d="M285.2 89.4 Q285.6 92.1 284.7 93.2 T284.1 97.0" stroke-opacity="0.37" stroke-width="1.50"/>
<path d="M284.1 97.0 Q282.2 98.1 281.1 97.8 T278.0 98.5" stroke-opacity="0.47" stroke-width="1.06"/>
<path d="M392.3 100.7 Q392.5 100.2 392.2 100.0 T392.1 99.3" stroke-opacity="0.34" stroke-width="1.31"/>
<path d="M389.5 112.8 Q390.7 112.7 390.8 113.6 T392.2 114.3" stroke-opacity="0.08" stroke-width="1.71"/>
<path d="M389.5 112.8 Q390.0 109.8 389.4 108.3 T389.3 103.7" stroke-opacity="0.30" stroke-width="1.42"/>
<path d="M392.3 100.7 Q390.7 101.1 390.8 102.2 T389.3 103.7" stroke-opacity="0.20" stroke-width="1.32"/>
<path d="M387.6 90.0 Q388.0 92.7 389.0 93.8 T390.4 97.6" stroke-opacity="0.25" stroke-width="0.99"/>
<path d="M381.4 93.4 Q381.2 94.7 381.5 95.4 T381.7 97.3" stroke-opacity="0.12" stroke-width="1.51"/>
<path d="M390.4 97.6 Q387.5 97.6 386.0 97.4 T381.7 97.3" stroke-opacity="0.19" stroke-width="1.42"/>
<path d="M390.4 97.6 Q391.3 97.8 391.2 98.4 T392.1 99.3" stroke-opacity="0.48" stroke-width="1.38"/>
<path d="M328.5 81.2 Q329.0 83.4 328.6 84.5 T328.8 87.8" stroke-opacity="0.46" stroke-width="1.71"/>
<path d="M328.5 81.2 Q331.0 81.6 332.3 81.3 T336.1 81.4" stroke-opacity="0.40" stroke-width="1.55"/>
<path d="M336.1 81.4 Q335.3 84.0 334.7 85.2 T333.3 89.1" stroke-opacity="0.39" stroke-width="1.51"/>
<path d="M333.3 89.1 Q332.3 88.3 331.8 89.1 T330.2 89.1" stroke-opacity="0.45" stroke-width="1.16"/>
<path d="M330.2 89.1 Q330.3 88.0 329.5 88.4 T328.8 87.8" stroke-opacity="0.10" stroke-width="1.25"/>
<path d="M343.6 56.3 Q344.7 59.8 346.4 60.9 T349.1 65.5" stroke-opacity="0.36" stroke-width="1.09"/>
<path d="M343.6 56.3 Q343.5 57.2 343.4 56.3 T343.1 56.3" stroke-opacity="0.48" stroke-width="1.66"/>
<path d="M343.1 56.3 Q341.3 59.7 340.2 61.3 T337.4 66.2" stroke-opacity="0.46" stroke-width="1.23"/>
<path d="M337.4 66.2 Q339.0 67.5 340.2 67.3 T343.0 68.3" stroke-opacity="0.21" stroke-width="1.02"/>
<path d="M343.0 68.3 Q344.8 66.8 346.1 66.9 T349.1 65.5" stroke-opacity="0.09" stroke-width="1.44"/>
<path d="M373.6 121.5 Q373.3 120.7 373.9 120.8 T374.3 120.1" stroke-opacity="0.13" stroke-width="1.15"/>
<path d="M381.8 121.7 Q379.2 121.6 378.0 120.9 T374.3 120.1" stroke-opacity="0.42" stroke-width="1.61"/>
<path d="M389.5 112.8 Q388.6 112.5 388.2 113.0 T386.9 113.1" stroke-opacity="0.31" stroke-width="1.27"/>
<path d="M381.8 121.7 Q383.0 118.5 384.4 117.4 T386.9 113.1" stroke-opacity="0.25" stroke-width="1.53"/>
<path d="M372.5 103.9 Q375.2 105.7 375.7 107.4 T379.0 110.8" stroke-opacity="0.12" stroke-width="1.28"/>
<path d="M372.5 103.9 Q373.2 103.2 372.9 102.7 T373.4 101.5" stroke-opacity="0.36" stroke-width="1.08"/>
<path d="M373.4 101.5 Q375.8 100.7 377.2 100.6 T381.0 99.7" stroke-opacity="0.29" stroke-width="1.17"/>
<path d="M380.1 110.6 Q379.6 110.3 379.5 110.7 T379.0 110.8" stroke-opacity="0.42" stroke-width="1.01"/>
<path d="M380.1 110.6 Q381.0 107.9 381.5 106.5 T382.8 102.5" stroke-opacity="0.32" stroke-width="1.05"/>
<path d="M382.8 102.5 Q382.6 101.3 381.9 101.1 T381.0 99.7" stroke-opacity="0.48" stroke-width="1.00"/>
<path d="M386.9 113.1 Q384.6 112.4 383.5 111.8 T380.1 110.6" stroke-opacity="0.43" stroke-width="1.62"/>
<path d="M374.3 120.1 Q373.6 119.3 374.0 118.8 T373.8 117.5" stroke-opacity="0.39" stroke-width="1.33"/>
<path d="M373.8 117.5 Q375.2 115.0 376.4 114.1 T379.0 110.8" stroke-opacity="0.43" stroke-width="1.28"/>
<path d="M389.3 103.7 Q387.2 103.2 386.1 103.1 T382.8 102.5" stroke-opacity="0.17" stroke-width="1.74"/>
<path d="M381.7 97.3 Q380.8 97.9 381.3 98.5 T381.0 99.7" stroke-opacity="0.37" stroke-width="1.56"/>
<path d="M357.9 32.5 Q355.9 33.7 355.0 34.4 T352.1 36.4" stroke-opacity="0.16" stroke-width="1.45"/>
<path d="M358.1 73.8 Q359.9 72.9 360.5 72.0 T362.9 70.2" stroke-opacity="0.36" stroke-width="1.36"/>
<path d="M358.1 73.8 Q358.1 76.3 358.9 77.3 T359.7 80.8" stroke-opacity="0.11" stroke-width="1.63"/>
<path d="M368.8 78.7 Q366.4 80.0 365.0 80.0 T361.2 81.3" stroke-opacity="0.13" stroke-width="1.25"/>
<path d="M359.7 80.8 Q360.2 81.0 360.5 81.1 T361.2 81.3" stroke-opacity="0.16" stroke-width="1.63"/>
<path d="M317.0 84.0 Q315.7 83.1 315.2 82.4 T313.5 80.8" stroke-opacity="0.18" stroke-width="1.56"/>
<path d="M317.0 84.0 Q318.9 82.6 320.0 82.2 T323.1 80.5" stroke-opacity="0.35" stroke-width="1.55"/>
<path d="M323.1 80.5 Q321.5 78.6 321.7 77.2 T320.3 73.9" stroke-opacity="0.23" stroke-width="1.60"/>
<path d="M313.5 80.8 Q315.1 78.5 315.0 77.0 T316.4 73.3" stroke-opacity="0.08" stroke-width="1.62"/>
<path d="M320.3 73.9 Q319.1 72.9 318.3 73.6 T316.4 73.3" stroke-opacity="0.26" stroke-width="1.68"/>
<path d="M328.5 81.2 Q327.4 81.1 327.9 80.3 T327.2 79.4" stroke-opacity="0.32" stroke-width="1.42"/>
<path d="M327.2 79.4 Q325.7 79.2 325.1 79.9 T323.1 80.5" stroke-opacity="0.27" stroke-width="1.81"/>
<path d="M328.8 87.8 Q325.3 88.6 323.5 88.5 T318.2 89.2" stroke-opacity="0.33" stroke-width="1.82"/>
<path d="M318.2 89.2 Q317.3 87.6 317.6 86.6 T317.0 84.0" stroke-opacity="0.25" stroke-width="1.32"/>
<path d="M327.2 79.4 Q327.1 77.8 327.7 77.2 T328.1 74.9" stroke-opacity="0.32" stroke-width="1.31"/>
<path d="M326.9 72.6 Q324.7 73.1 323.6 73.3 T320.3 73.9" stroke-opacity="0.44" stroke-width="1.45"/>
<path d="M296.2 88.4 Q295.2 91.2 294.4 92.4 T292.5 96.4" stroke-opacity="0.15" stroke-width="1.02"/>
<path d="M284.1 97.0 Q284.5 98.2 285.3 97.8 T286.4 98.5" stroke-opacity="0.14" stroke-width="1.30"/>
<path d="M292.5 96.4 Q290.6 97.4 289.4 97.5 T286.4 98.5" stroke-opacity="0.44" stroke-width="1.22"/>
<path d="M279.0 37.1 Q278.3 36.2 279.0 35.8 T279.1 34.4" stroke-opacity="0.48" stroke-width="1.34"/>
<path d="M280.0 66.0 Q280.7 65.2 281.2 65.1 T282.5 64.2" stroke-opacity="0.47" stroke-width="1.41"/>
<path d="M277.7 54.7 Q279.5 56.4 280.8 56.5 T283.8 58.2" stroke-opacity="0.22" stroke-width="1.46"/>
<path d="M282.5 64.2 Q282.5 62.1 283.1 61.2 T283.8 58.2" stroke-opacity="0.15" stroke-width="1.20"/>
<path d="M277.8 49.0 Q280.0 49.4 281.0 48.6 T284.3 48.2" stroke-opacity="0.12" stroke-width="1.27"/>
<path d="M284.3 48.2 Q284.5 48.9 285.0 48.9 T285.7 49.6" stroke-opacity="0.31" stroke-width="1.59"/>
<path d="M283.8 58.2 Q284.8 56.7 285.8 56.5 T287.7 54.7" stroke-opacity="0.42" stroke-width="1.32"/>
<path d="M285.7 49.6 Q286.8 51.1 286.7 52.1 T287.7 54.7" stroke-opacity="0.34" stroke-width="1.51"/>
<path d="M326.8 67.1 Q324.4 67.2 323.6 65.9 T320.3 64.8" stroke-opacity="0.47" stroke-width="1.00"/>
<path d="M315.6 70.0 Q316.5 71.0 316.0 71.7 T316.4 73.3" stroke-opacity="0.26" stroke-width="1.30"/>
<path d="M315.6 70.0 Q316.7 69.5 316.4 68.7 T317.2 67.4" stroke-opacity="0.16" stroke-width="1.77"/>
<path d="M317.2 67.4 Q317.7 65.8 318.8 66.1 T320.3 64.8" stroke-opacity="0.24" stroke-width="0.98"/>
<path d="M294.6 45.0 Q291.8 46.9 290.1 47.3 T285.7 49.6" stroke-opacity="0.34" stroke-width="1.49"/>
<path d="M294.6 45.0 Q294.8 46.7 295.2 47.4 T295.9 49.9" stroke-opacity="0.09" stroke-width="1.53"/>
<path d="M292.0 55.6 Q290.6 55.2 289.9 55.2 T287.7 54.7" stroke-opacity="0.25" stroke-width="1.18"/>
<path d="M292.0 55.6 Q293.1 56.0 293.4 55.2 T294.9 54.7" stroke-opacity="0.14" stroke-width="1.65"/>
<path d="M295.9 49.9 Q295.1 51.4 295.4 52.3 T294.9 54.7" stroke-opacity="0.36" stroke-width="1.33"/>
<path d="M341.4 86.8 Q340.3 88.4 339.7 89.2 T337.9 91.6" stroke-opacity="0.33" stroke-width="1.77"/>
<path d="M341.4 86.8 Q343.7 87.4 344.5 88.3 T347.6 89.8" stroke-opacity="0.08" stroke-width="1.14"/>
<path d="M337.9 91.6 Q337.3 92.2 338.1 92.1 T338.2 92.6" stroke-opacity="0.29" stroke-width="1.75"/>
<path d="M347.6 89.8 Q346.7 91.8 346.6 93.0 T345.7 96.2" stroke-opacity="0.37" stroke-width="1.80"/>
<path d="M338.2 92.6 Q339.3 94.9 340.7 95.3 T343.2 97.9" stroke-opacity="0.13" stroke-width="1.22"/>
<path d="M345.7 96.2 Q345.2 97.3 344.4 97.0 T343.2 97.9" stroke-opacity="0.43" stroke-width="1.10"/>
<path d="M333.3 89.1 Q335.2 89.3 335.6 90.4 T337.9 91.6" stroke-opacity="0.37" stroke-width="1.63"/>
<path d="M338.2 92.6 Q335.8 94.8 334.6 95.7 T330.9 98.9" stroke-opacity="0.46" stroke-width="1.72"/>
<path d="M330.2 89.1 Q330.0 92.2 328.9 93.5 T327.6 98.0" stroke-opacity="0.41" stroke-width="1.74"/>
<path d="M330.9 98.9 Q329.8 98.7 329.3 98.4 T327.6 98.0" stroke-opacity="0.28" stroke-width="1.29"/>
<path d="M361.6 122.1 Q358.9 120.8 357.7 119.8 T353.9 117.6" stroke-opacity="0.35" stroke-width="1.55"/>
<path d="M349.9 122.6 Q351.5 121.1 351.9 120.1 T353.9 117.6" stroke-opacity="0.10" stroke-width="1.31"/>
<path d="M346.6 80.7 Q348.4 79.0 348.5 77.7 T350.4 74.6" stroke-opacity="0.41" stroke-width="1.50"/>
<path d="M346.6 80.7 Q345.0 80.3 344.2 80.9 T341.9 81.1" stroke-opacity="0.38" stroke-width="1.70"/>
<path d="M350.4 74.6 Q348.1 73.1 346.7 73.6 T343.1 72.6" stroke-opacity="0.42" stroke-width="1.05"/>
<path d="M343.1 72.6 Q342.4 74.9 341.1 75.2 T339.2 77.8" stroke-opacity="0.18" stroke-width="1.24"/>
<path d="M341.9 81.1 Q340.7 81.0 340.7 80.2 T339.6 79.3" stroke-opacity="0.09" stroke-width="1.65"/>
<path d="M339.2 77.8 Q339.7 78.2 339.4 78.6 T339.6 79.3" stroke-opacity="0.46" stroke-width="1.56"/>
<path d="M358.1 73.8 Q356.6 73.4 356.0 73.0 T353.8 72.1" stroke-opacity="0.44" stroke-width="1.58"/>
<path d="M352.7 86.3 Q353.4 85.9 353.6 86.4 T354.5 86.6" stroke-opacity="0.45" stroke-width="1.50"/>
<path d="M352.7 86.3 Q350.1 85.0 349.7 83.5 T346.6 80.7" stroke-opacity="0.33" stroke-width="1.23"/>
<path d="M353.8 72.1 Q352.3 72.4 352.1 73.3 T350.4 74.6" stroke-opacity="0.14" stroke-width="1.24"/>
<path d="M354.5 86.6 Q356.0 84.4 357.1 83.7 T359.7 80.8" stroke-opacity="0.35" stroke-width="1.08"/>
<path d="M341.4 86.8 Q341.4 84.9 341.7 83.9 T341.9 81.1" stroke-opacity="0.37" stroke-width="1.70"/>
<path d="M352.7 86.3 Q351.4 88.1 350.2 88.0 T347.6 89.8" stroke-opacity="0.18" stroke-width="1.22"/>
<path d="M353.8 72.1 Q353.2 69.9 352.3 69.1 T350.8 66.1" stroke-opacity="0.19" stroke-width="1.44"/>
<path d="M343.0 68.3 Q343.4 69.7 343.1 70.5 T343.1 72.6" stroke-opacity="0.33" stroke-width="1.11"/>
<path d="M349.1 65.5 Q349.6 66.0 350.0 65.8 T350.8 66.1" stroke-opacity="0.14" stroke-width="1.48"/>
<path d="M337.4 66.2 Q337.2 66.8 336.9 66.4 T336.5 66.5" stroke-opacity="0.20" stroke-width="1.56"/>
<path d="M335.9 74.4 Q336.8 75.8 337.5 76.1 T339.2 77.8" stroke-opacity="0.17" stroke-width="1.68"/>
<path d="M336.1 81.4 Q337.1 80.5 337.8 80.3 T339.6 79.3" stroke-opacity="0.28" stroke-width="1.36"/>
<path d="M361.6 122.1 Q363.8 119.7 364.4 118.2 T367.2 114.4" stroke-opacity="0.40" stroke-width="1.35"/>
<path d="M353.9 117.6 Q354.4 116.9 354.0 116.5 T354.0 115.3" stroke-opacity="0.48" stroke-width="1.32"/>
<path d="M354.0 115.3 Q354.3 114.5 354.7 114.3 T355.5 113.2" stroke-opacity="0.29" stroke-width="1.33"/>
<path d="M355.5 113.2 Q359.4 114.0 361.4 113.8 T367.2 114.4" stroke-opacity="0.48" stroke-width="1.61"/>
<path d="M373.8 117.5 Q372.1 116.1 371.0 115.7 T368.3 113.9" stroke-opacity="0.42" stroke-width="1.75"/>
<path d="M372.5 103.9 Q370.5 104.4 369.9 105.3 T367.3 106.7" stroke-opacity="0.11" stroke-width="1.60"/>
<path d="M367.3 106.7 Q367.0 109.2 367.8 110.3 T368.3 113.9" stroke-opacity="0.11" stroke-width="1.44"/>
<path d="M367.2 114.4 Q367.4 113.8 367.8 114.1 T368.3 113.9" stroke-opacity="0.47" stroke-width="1.68"/>
<path d="M351.3 45.0 Q353.4 45.8 354.5 45.8 T357.6 46.6" stroke-opacity="0.36" stroke-width="1.37"/>
<path d="M351.3 45.0 Q354.8 41.5 357.2 40.5 T363.2 35.9" stroke-opacity="0.29" stroke-width="1.47"/>
<path d="M357.6 46.6 Q359.2 42.9 360.4 41.3 T363.2 35.9" stroke-opacity="0.22" stroke-width="1.14"/>
<path d="M357.9 32.5 Q359.3 34.2 360.6 34.1 T363.3 35.8" stroke-opacity="0.24" stroke-width="1.44"/>
<path d="M365.0 36.0 Q364.3 36.4 364.1 35.9 T363.3 35.8" stroke-opacity="0.31" stroke-width="1.02"/>
<path d="M364.2 64.6 Q364.9 64.0 364.1 63.9 T363.9 63.2" stroke-opacity="0.14" stroke-width="1.81"/>
<path d="M350.8 66.1 Q352.7 63.2 354.2 62.4 T357.6 58.7" stroke-opacity="0.28" stroke-width="1.20"/>
<path d="M363.9 63.2 Q361.7 61.9 360.8 61.0 T357.6 58.7" stroke-opacity="0.23" stroke-width="1.19"/>
<path d="M343.6 56.3 Q344.1 55.7 344.5 55.5 T345.3 54.8" stroke-opacity="0.37" stroke-width="1.15"/>
<path d="M345.3 54.8 Q349.1 54.8 350.7 56.0 T356.0 57.3" stroke-opacity="0.10" stroke-width="1.51"/>
<path d="M356.0 57.3 Q356.5 57.7 356.8 57.9 T357.6 58.4" stroke-opacity="0.16" stroke-width="1.73"/>
<path d="M357.6 58.7 Q356.9 58.7 357.6 58.6 T357.6 58.4" stroke-opacity="0.35" stroke-width="1.12"/>
<path d="M350.2 40.2 Q348.2 39.0 347.1 38.6 T344.0 37.1" stroke-opacity="0.13" stroke-width="1.64"/>
<path d="M350.2 40.2 Q350.6 41.8 350.6 42.6 T351.0 45.0" stroke-opacity="0.08" stroke-width="1.05"/>
<path d="M348.9 46.6 Q349.7 46.3 349.9 45.9 T350.9 45.2" stroke-opacity="0.25" stroke-width="1.74"/>
<path d="M348.9 46.6 Q345.9 46.1 344.4 45.5 T339.9 44.4" stroke-opacity="0.14" stroke-width="1.45"/>
<path d="M344.0 37.1 Q342.5 38.1 342.2 39.2 T340.4 41.2" stroke-opacity="0.28" stroke-width="1.18"/>
<path d="M350.9 45.2 Q350.4 44.7 351.0 45.1 T351.0 45.0" stroke-opacity="0.16" stroke-width="1.74"/>
<path d="M339.9 44.4 Q339.9 43.3 340.2 42.8 T340.4 41.2" stroke-opacity="0.35" stroke-width="1.36"/>
<path d="M352.1 36.4 Q352.2 38.0 351.2 38.3 T350.2 40.2" stroke-opacity="0.48" stroke-width="1.20"/>
<path d="M341.8 33.1 Q342.0 34.7 342.9 35.1 T344.0 37.1" stroke-opacity="0.36" stroke-width="1.53"/>
<path d="M351.3 45.0 Q351.2 44.6 351.2 45.0 T351.0 45.0" stroke-opacity="0.14" stroke-width="1.66"/>
<path d="M363.3 35.8 Q363.3 35.9 363.2 35.9 T363.2 35.9" stroke-opacity="0.40" stroke-width="1.56"/>
<path d="M345.3 54.8 Q347.3 52.4 347.1 50.7 T348.9 46.6" stroke-opacity="0.34" stroke-width="1.05"/>
<path d="M356.0 57.3 Q353.7 53.5 353.5 51.2 T350.9 45.2" stroke-opacity="0.19" stroke-width="1.35"/>
<path d="M334.6 34.1 Q335.1 34.3 334.6 34.3 T334.6 34.6" stroke-opacity="0.26" stroke-width="1.30"/>
<path d="M334.6 34.1 Q337.1 34.5 338.2 33.6 T341.8 33.1" stroke-opacity="0.40" stroke-width="1.75"/>
<path d="M334.6 34.6 Q336.2 37.1 337.5 37.9 T340.4 41.2" stroke-opacity="0.48" stroke-width="1.00"/>
<path d="M334.6 34.6 Q333.0 36.9 333.2 38.4 T331.9 42.2" stroke-opacity="0.22" stroke-width="1.38"/>
<path d="M331.9 42.2 Q333.1 43.6 333.5 44.5 T335.1 46.8" stroke-opacity="0.42" stroke-width="1.61"/>
<path d="M335.1 46.8 Q336.5 45.6 337.5 45.6 T339.9 44.4" stroke-opacity="0.11" stroke-width="1.60"/>
<path d="M394.5 46.4 Q392.3 46.7 391.5 45.6 T388.4 44.8" stroke-opacity="0.14" stroke-width="1.70"/>
<path d="M388.4 44.8 Q386.2 45.3 385.7 46.5 T383.1 48.2" stroke-opacity="0.45" stroke-width="1.13"/>
<path d="M383.1 48.2 Q383.7 50.7 384.5 51.7 T386.0 55.2" stroke-opacity="0.26" stroke-width="1.49"/>
<path d="M386.0 55.2 Q387.7 55.6 388.4 56.2 T390.8 57.2" stroke-opacity="0.32" stroke-width="1.65"/>
<path d="M377.9 63.6 Q378.7 62.8 377.8 62.5 T377.7 61.5" stroke-opacity="0.18" stroke-width="1.04"/>
<path d="M390.1 65.9 Q389.8 63.0 390.4 61.6 T390.8 57.2" stroke-opacity="0.18" stroke-width="1.59"/>
<path d="M377.7 61.5 Q380.0 58.8 381.8 58.4 T386.0 55.2" stroke-opacity="0.20" stroke-width="1.17"/>
<path d="M296.5 88.2 Q296.8 88.4 296.9 88.5 T297.2 88.9" stroke-opacity="0.26" stroke-width="1.08"/>
<path d="M297.3 84.4 Q299.3 82.7 300.1 81.7 T302.9 78.9" stroke-opacity="0.08" stroke-width="1.05"/>
<path d="M307.5 80.6 Q306.0 79.9 305.2 79.8 T302.9 78.9" stroke-opacity="0.18" stroke-width="1.81"/>
<path d="M307.5 80.6 Q308.0 84.3 307.7 86.1 T307.9 91.6" stroke-opacity="0.34" stroke-width="1.01"/>
<path d="M307.9 91.6 Q304.2 91.1 302.6 90.2 T297.2 88.9" stroke-opacity="0.30" stroke-width="1.74"/>
<path d="M318.2 89.2 Q318.9 89.7 318.1 89.7 T318.0 90.2" stroke-opacity="0.09" stroke-width="1.21"/>
<path d="M318.0 90.2 Q315.3 91.8 313.6 91.7 T309.2 93.2" stroke-opacity="0.40" stroke-width="1.77"/>
<path d="M307.5 80.6 Q309.5 80.8 310.5 80.7 T313.5 80.8" stroke-opacity="0.38" stroke-width="1.23"/>
<path d="M307.9 91.6 Q308.1 92.3 308.6 92.4 T309.2 93.2" stroke-opacity="0.27" stroke-width="1.67"/>
<path d="M315.6 70.0 Q313.4 70.2 312.4 69.5 T309.1 69.0" stroke-opacity="0.44" stroke-width="1.37"/>
<path d="M302.9 78.9 Q302.2 78.4 302.7 77.9 T302.5 77.0" stroke-opacity="0.19" stroke-width="1.73"/>
<path d="M302.5 77.0 Q304.7 74.3 305.8 73.0 T309.1 69.0" stroke-opacity="0.27" stroke-width="1.77"/>
<path d="M288.2 105.1 Q290.2 106.6 291.5 106.3 T294.8 107.5" stroke-opacity="0.41" stroke-width="1.22"/>
<path d="M288.2 105.1 Q286.8 107.0 285.4 107.1 T282.7 109.1" stroke-opacity="0.10" stroke-width="1.37"/>
<path d="M285.7 114.7 Q284.9 112.8 284.2 111.9 T282.7 109.1" stroke-opacity="0.46" stroke-width="1.15"/>
<path d="M285.7 114.7 Q288.9 113.7 290.0 112.3 T294.3 109.9" stroke-opacity="0.34" stroke-width="1.37"/>
<path d="M294.3 109.9 Q295.1 109.2 294.5 108.7 T294.8 107.5" stroke-opacity="0.08" stroke-width="1.68"/>
<path d="M282.5 109.1 Q282.5 109.4 282.6 109.1 T282.7 109.1" stroke-opacity="0.13" stroke-width="1.15"/>
<path d="M286.4 98.5 Q286.8 100.8 287.3 101.8 T288.2 105.1" stroke-opacity="0.36" stroke-width="1.48"/>
<path d="M285.8 121.6 Q286.0 119.3 285.7 118.2 T285.7 114.7" stroke-opacity="0.27" stroke-width="1.26"/>
<path d="M284.3 48.2 Q285.0 45.8 284.7 44.5 T285.2 40.9" stroke-opacity="0.38" stroke-width="1.56"/>
<path d="M294.6 45.0 Q295.5 43.6 295.0 42.7 T295.3 40.5" stroke-opacity="0.10" stroke-width="1.54"/>
<path d="M285.2 40.9 Q288.6 40.5 290.3 40.7 T295.3 40.5" stroke-opacity="0.28" stroke-width="1.69"/>
<path d="M279.0 37.1 Q280.2 38.2 281.2 38.1 T283.5 39.0" stroke-opacity="0.16" stroke-width="1.56"/>
<path d="M285.2 40.9 Q285.2 39.7 284.3 40.0 T283.5 39.0" stroke-opacity="0.11" stroke-width="1.56"/>
<path d="M303.2 48.6 Q300.7 48.8 299.6 49.2 T295.9 49.9" stroke-opacity="0.16" stroke-width="1.40"/>
<path d="M303.2 48.6 Q301.8 44.9 300.4 43.4 T297.5 38.2" stroke-opacity="0.24" stroke-width="1.01"/>
<path d="M295.3 40.5 Q296.4 40.1 296.4 39.4 T297.5 38.2" stroke-opacity="0.24" stroke-width="1.53"/>
<path d="M283.5 39.0 Q286.4 36.4 287.1 34.6 T290.7 30.1" stroke-opacity="0.22" stroke-width="1.49"/>
<path d="M308.3 54.2 Q305.8 55.6 304.4 56.0 T300.6 57.8" stroke-opacity="0.41" stroke-width="1.54"/>
<path d="M308.3 54.2 Q308.5 55.1 309.1 54.8 T310.0 55.4" stroke-opacity="0.32" stroke-width="1.12"/>
<path d="M310.0 55.4 Q309.8 55.8 310.2 55.6 T310.3 55.8" stroke-opacity="0.31" stroke-width="0.98"/>
<path d="M310.3 55.8 Q310.4 57.6 310.2 58.5 T310.1 61.2" stroke-opacity="0.34" stroke-width="1.45"/>
<path d="M310.1 61.2 Q309.7 62.9 308.9 63.4 T307.8 65.7" stroke-opacity="0.36" stroke-width="1.48"/>
<path d="M307.8 65.7 Q305.2 65.4 303.9 65.0 T300.1 64.2" stroke-opacity="0.31" stroke-width="1.02"/>
<path d="M300.6 57.8 Q299.7 59.9 300.3 61.0 T300.1 64.2" stroke-opacity="0.20" stroke-width="1.36"/>
<path d="M303.2 48.6 Q305.1 48.7 305.5 49.7 T307.8 50.9" stroke-opacity="0.49" stroke-width="1.67"/>
<path d="M307.8 50.9 Q307.8 52.0 308.1 52.5 T308.3 54.2" stroke-opacity="0.22" stroke-width="1.37"/>
<path d="M294.9 54.7 Q297.1 55.2 297.7 56.3 T300.6 57.8" stroke-opacity="0.47" stroke-width="1.54"/>
<path d="M307.8 50.9 Q308.3 49.9 308.4 49.4 T309.0 47.9" stroke-opacity="0.34" stroke-width="1.49"/>
<path d="M321.4 47.0 Q321.2 46.1 321.2 45.6 T320.9 44.2" stroke-opacity="0.12" stroke-width="1.35"/>
<path d="M321.4 47.0 Q317.4 49.6 315.7 51.2 T310.0 55.4" stroke-opacity="0.19" stroke-width="1.66"/>
<path d="M309.0 47.9 Q312.8 46.0 315.0 46.0 T320.9 44.2" stroke-opacity="0.42" stroke-width="1.08"/>
<path d="M319.2 58.5 Q316.1 58.0 314.8 57.2 T310.3 55.8" stroke-opacity="0.25" stroke-width="1.67"/>
<path d="M319.2 58.5 Q321.4 57.1 322.0 55.9 T324.8 53.3" stroke-opacity="0.17" stroke-width="1.75"/>
<path d="M324.8 53.3 Q323.4 51.4 323.1 50.2 T321.4 47.0" stroke-opacity="0.47" stroke-width="1.07"/>
<path d="M319.2 58.5 Q318.7 60.7 319.7 61.6 T320.3 64.8" stroke-opacity="0.34" stroke-width="0.98"/>
<path d="M317.2 67.4 Q315.0 65.1 313.6 64.3 T310.1 61.2" stroke-opacity="0.24" stroke-width="1.04"/>
<path d="M309.1 69.0 Q308.0 68.1 308.5 67.3 T307.8 65.7" stroke-opacity="0.25" stroke-width="1.67"/>
<path d="M330.9 59.8 Q329.0 58.2 329.1 56.8 T327.3 53.9" stroke-opacity="0.25" stroke-width="1.31"/>
<path d="M330.9 59.8 Q334.3 58.4 336.0 57.6 T341.1 55.5" stroke-opacity="0.16" stroke-width="1.65"/>
<path d="M327.3 53.9 Q329.9 52.0 331.1 51.1 T334.9 48.2" stroke-opacity="0.48" stroke-width="1.57"/>
<path d="M341.1 55.5 Q338.6 53.4 338.0 51.8 T334.9 48.2" stroke-opacity="0.32" stroke-width="1.27"/>
<path d="M331.0 64.1 Q330.5 62.7 330.9 62.0 T330.9 59.8" stroke-opacity="0.18" stroke-width="1.22"/>
<path d="M324.8 53.3 Q325.7 53.2 326.1 53.6 T327.3 53.9" stroke-opacity="0.33" stroke-width="1.14"/>
<path d="M343.1 56.3 Q342.3 56.2 342.1 55.9 T341.1 55.5" stroke-opacity="0.11" stroke-width="1.37"/>
<path d="M331.9 42.2 Q328.4 42.0 326.7 41.9 T321.5 41.6" stroke-opacity="0.26" stroke-width="1.56"/>
<path d="M335.1 46.8 Q334.7 47.3 335.0 47.5 T334.9 48.2" stroke-opacity="0.32" stroke-width="1.36"/>
<path d="M320.9 44.2 Q320.5 43.2 321.2 42.9 T321.5 41.6" stroke-opacity="0.50" stroke-width="1.06"/>
<path d="M342.8 101.6 Q345.1 103.0 346.6 102.6 T350.3 103.6" stroke-opacity="0.11" stroke-width="1.79"/>
<path d="M342.8 101.6 Q341.9 102.4 341.8 103.1 T340.8 104.5" stroke-opacity="0.43" stroke-width="1.57"/>
<path d="M350.3 103.6 Q349.7 106.5 349.1 107.8 T347.9 112.0" stroke-opacity="0.39" stroke-width="1.12"/>
<path d="M340.8 104.5 Q341.6 106.8 342.5 107.6 T344.3 110.8" stroke-opacity="0.37" stroke-width="1.65"/>
<path d="M344.3 110.8 Q345.2 112.0 346.1 111.4 T347.9 112.0" stroke-opacity="0.27" stroke-width="1.45"/>
<path d="M343.2 97.9 Q342.6 99.1 343.0 99.8 T342.8 101.6" stroke-opacity="0.11" stroke-width="1.03"/>
<path d="M336.9 105.3 Q334.6 103.5 333.9 102.1 T330.9 98.9" stroke-opacity="0.17" stroke-width="1.25"/>
<path d="M336.9 105.3 Q338.3 105.6 338.8 104.9 T340.8 104.5" stroke-opacity="0.19" stroke-width="1.20"/>
<path d="M334.0 113.0 Q336.7 113.4 337.5 114.7 T341.0 116.3" stroke-opacity="0.21" stroke-width="1.32"/>
<path d="M334.0 113.0 Q333.8 111.4 334.1 110.6 T334.3 108.2" stroke-opacity="0.43" stroke-width="1.09"/>
<path d="M341.0 116.3 Q341.7 114.3 342.6 113.6 T344.3 110.8" stroke-opacity="0.22" stroke-width="1.41"/>
<path d="M336.9 105.3 Q336.2 106.5 335.6 106.8 T334.3 108.2" stroke-opacity="0.21" stroke-width="1.36"/>
<path d="M354.0 115.3 Q351.5 115.0 350.9 113.6 T347.9 112.0" stroke-opacity="0.29" stroke-width="1.67"/>
<path d="M341.8 122.3 Q342.4 120.2 341.4 119.3 T341.0 116.3" stroke-opacity="0.30" stroke-width="1.52"/>
<path d="M373.2 88.9 Q372.6 88.9 372.5 89.3 T371.8 89.7" stroke-opacity="0.50" stroke-width="1.27"/>
<path d="M373.4 101.5 Q372.3 99.4 372.0 98.2 T370.6 95.0" stroke-opacity="0.17" stroke-width="1.06"/>
<path d="M370.6 95.0 Q371.7 93.4 371.2 92.3 T371.8 89.7" stroke-opacity="0.45" stroke-width="1.75"/>
<path d="M361.2 81.3 Q363.8 83.3 364.5 84.9 T367.8 88.4" stroke-opacity="0.20" stroke-width="1.21"/>
<path d="M371.8 89.7 Q370.7 88.4 369.8 89.0 T367.8 88.4" stroke-opacity="0.40" stroke-width="1.35"/>
<path d="M286.1 121.8 Q287.4 122.6 288.0 121.7 T289.9 121.6" stroke-opacity="0.49" stroke-width="1.59"/>
<path d="M294.3 109.9 Q295.5 112.4 294.8 113.9 T295.4 117.8" stroke-opacity="0.43" stroke-width="1.72"/>
<path d="M289.9 121.6 Q291.8 120.5 292.6 119.7 T295.4 117.8" stroke-opacity="0.44" stroke-width="1.33"/>
<path d="M321.9 111.5 Q322.8 109.8 323.8 109.5 T325.8 107.4" stroke-opacity="0.16" stroke-width="1.67"/>
<path d="M321.9 111.5 Q319.2 108.7 318.9 106.7 T315.9 101.9" stroke-opacity="0.08" stroke-width="1.59"/>
<path d="M325.8 107.4 Q325.1 104.6 325.5 103.2 T325.2 98.9" stroke-opacity="0.15" stroke-width="1.74"/>
<path d="M315.9 101.9 Q317.0 99.9 318.2 99.6 T320.5 97.2" stroke-opacity="0.33" stroke-width="1.36"/>
<path d="M320.5 97.2 Q322.2 97.3 322.8 98.0 T325.2 98.9" stroke-opacity="0.47" stroke-width="1.09"/>
<path d="M334.3 108.2 Q331.4 108.8 330.0 107.8 T325.8 107.4" stroke-opacity="0.45" stroke-width="1.56"/>
<path d="M327.6 98.0 Q326.8 98.3 326.4 98.4 T325.2 98.9" stroke-opacity="0.25" stroke-width="0.99"/>
<path d="M318.0 90.2 Q318.9 92.5 319.2 93.7 T320.5 97.2" stroke-opacity="0.31" stroke-width="1.73"/>
<path d="M353.5 103.7 Q352.3 101.3 352.9 99.9 T352.4 96.1" stroke-opacity="0.30" stroke-width="1.60"/>
<path d="M353.5 103.7 Q354.9 104.4 355.5 104.9 T357.5 106.1" stroke-opacity="0.22" stroke-width="1.21"/>
<path d="M357.5 106.1 Q358.6 105.4 359.2 105.1 T360.8 104.1" stroke-opacity="0.43" stroke-width="1.13"/>
<path d="M360.8 104.1 Q360.9 102.3 361.1 101.5 T361.5 98.9" stroke-opacity="0.42" stroke-width="1.58"/>
<path d="M361.5 98.9 Q360.6 97.0 359.9 96.2 T358.2 93.4" stroke-opacity="0.27" stroke-width="1.66"/>
<path d="M352.4 96.1 Q354.2 95.4 354.6 94.3 T356.8 92.5" stroke-opacity="0.12" stroke-width="1.34"/>
<path d="M356.8 92.5 Q357.5 92.5 357.5 93.0 T358.2 93.4" stroke-opacity="0.20" stroke-width="1.67"/>
<path d="M345.7 96.2 Q347.9 95.9 349.0 96.1 T352.4 96.1" stroke-opacity="0.24" stroke-width="1.14"/>
<path d="M350.3 103.6 Q351.4 103.8 351.9 103.7 T353.5 103.7" stroke-opacity="0.47" stroke-width="1.50"/>
<path d="M355.5 113.2 Q357.0 111.1 356.5 109.7 T357.5 106.1" stroke-opacity="0.28" stroke-width="0.99"/>
<path d="M367.3 106.7 Q365.0 106.3 364.1 105.4 T360.8 104.1" stroke-opacity="0.39" stroke-width="1.10"/>
<path d="M370.6 95.0 Q367.4 96.1 366.0 97.0 T361.5 98.9" stroke-opacity="0.28" stroke-width="1.62"/>
<path d="M367.8 88.4 Q364.8 90.4 363.0 90.9 T358.2 93.4" stroke-opacity="0.20" stroke-width="1.77"/>
<path d="M354.5 86.6 Q355.2 88.6 355.6 89.5 T356.8 92.5" stroke-opacity="0.14" stroke-width="1.04"/>
<path d="M367.9 39.8 Q366.7 38.7 366.4 37.9 T365.0 36.0" stroke-opacity="0.27" stroke-width="1.66"/>
<path d="M367.9 39.8 Q370.1 41.2 371.5 40.6 T375.1 41.4" stroke-opacity="0.22" stroke-width="1.65"/>
<path d="M375.1 41.4 Q374.2 37.0 374.9 34.7 T374.6 28.1" stroke-opacity="0.45" stroke-width="1.63"/>
<path d="M377.6 46.5 Q379.7 46.4 380.4 47.3 T383.1 48.2" stroke-opacity="0.42" stroke-width="1.33"/>
<path d="M377.6 46.5 Q377.7 44.8 376.8 44.2 T376.0 42.0" stroke-opacity="0.30" stroke-width="1.45"/>
<path d="M388.4 44.8 Q388.7 42.3 388.1 41.1 T387.8 37.3" stroke-opacity="0.18" stroke-width="1.58"/>
<path d="M376.0 42.0 Q378.1 39.1 379.9 38.4 T383.8 34.9" stroke-opacity="0.27" stroke-width="1.64"/>
<path d="M387.8 37.3 Q386.4 36.6 385.8 36.1 T383.8 34.9" stroke-opacity="0.36" stroke-width="1.55"/>
<path d="M375.1 41.4 Q375.0 42.3 375.6 41.7 T376.0 42.0" stroke-opacity="0.32" stroke-width="1.00"/>
<path d="M383.6 33.8 Q384.2 34.0 383.7 34.3 T383.8 34.9" stroke-opacity="0.16" stroke-width="1.42"/>
<path d="M361.5 49.0 Q362.1 48.2 362.6 48.6 T363.7 48.3" stroke-opacity="0.43" stroke-width="1.04"/>
<path d="M361.5 49.0 Q361.4 51.0 360.7 51.8 T359.8 54.7" stroke-opacity="0.09" stroke-width="1.10"/>
<path d="M359.8 54.7 Q363.2 55.5 365.0 55.7 T370.1 56.6" stroke-opacity="0.46" stroke-width="1.46"/>
<path d="M363.7 48.3 Q366.3 50.5 368.0 51.0 T372.3 53.7" stroke-opacity="0.24" stroke-width="1.70"/>
<path d="M372.3 53.7 Q372.1 54.2 372.3 54.4 T372.3 55.1" stroke-opacity="0.18" stroke-width="1.08"/>
<path d="M372.3 55.1 Q371.4 55.4 371.2 55.9 T370.1 56.6" stroke-opacity="0.11" stroke-width="1.31"/>
<path d="M357.6 46.6 Q358.7 47.6 359.6 47.8 T361.5 49.0" stroke-opacity="0.40" stroke-width="1.36"/>
<path d="M367.9 39.8 Q366.8 42.8 365.8 44.1 T363.7 48.3" stroke-opacity="0.33" stroke-width="1.11"/>
<path d="M357.6 58.4 Q358.5 57.3 358.7 56.5 T359.8 54.7" stroke-opacity="0.49" stroke-width="1.43"/>
<path d="M363.9 63.2 Q365.6 60.7 367.0 59.9 T370.1 56.6" stroke-opacity="0.17" stroke-width="1.25"/>
<path d="M377.6 46.5 Q375.7 48.8 375.0 50.1 T372.3 53.7" stroke-opacity="0.38" stroke-width="1.35"/>
<path d="M377.7 61.5 Q376.1 59.2 375.0 58.3 T372.3 55.1" stroke-opacity="0.20" stroke-width="1.16"/>
<path d="M299.9 73.6 Q299.5 70.9 299.6 69.5 T299.2 65.4" stroke-opacity="0.13" stroke-width="1.51"/>
<path d="M299.9 73.6 Q296.7 74.0 295.3 73.0 T290.7 72.3" stroke-opacity="0.36" stroke-width="1.66"/>
<path d="M299.2 65.4 Q296.8 64.8 295.5 65.2 T291.8 65.0" stroke-opacity="0.18" stroke-width="1.81"/>
<path d="M290.7 72.3 Q290.7 70.3 290.4 69.3 T290.0 66.3" stroke-opacity="0.47" stroke-width="1.18"/>
<path d="M290.0 66.3 Q291.1 66.5 290.9 65.6 T291.8 65.0" stroke-opacity="0.35" stroke-width="1.20"/>
<path d="M302.5 77.0 Q301.1 76.3 301.2 75.3 T299.9 73.6" stroke-opacity="0.17" stroke-width="1.64"/>
<path d="M300.1 64.2 Q299.8 64.7 299.7 64.8 T299.2 65.4" stroke-opacity="0.08" stroke-width="1.56"/>
<path d="M289.9 73.3 Q290.3 73.2 290.3 72.8 T290.7 72.3" stroke-opacity="0.24" stroke-width="1.75"/>
<path d="M292.0 55.6 Q292.8 58.8 291.9 60.3 T291.8 65.0" stroke-opacity="0.40" stroke-width="1.07"/>
<path d="M282.5 64.2 Q284.8 65.7 286.3 65.2 T290.0 66.3" stroke-opacity="0.39" stroke-width="1.19"/>
<path d="M309.0 47.9 Q308.9 44.8 308.4 43.3 T307.7 38.8" stroke-opacity="0.13" stroke-width="1.25"/>
<path d="M297.5 38.2 Q298.3 38.3 297.7 37.9 T297.9 37.5" stroke-opacity="0.14" stroke-width="1.05"/>
<path d="M297.9 37.5 Q301.3 37.3 302.8 38.1 T307.7 38.8" stroke-opacity="0.23" stroke-width="1.63"/>
<path d="M321.5 41.6 Q321.1 41.0 321.1 40.6 T320.7 39.7" stroke-opacity="0.22" stroke-width="1.39"/>
<path d="M307.7 38.8 Q308.1 38.4 308.4 38.3 T309.0 37.9" stroke-opacity="0.36" stroke-width="1.61"/>
<path d="M309.0 37.9 Q312.0 38.2 313.6 38.3 T318.1 38.7" stroke-opacity="0.40" stroke-width="1.64"/>
<path d="M320.7 39.7 Q320.0 39.0 319.4 39.2 T318.1 38.7" stroke-opacity="0.45" stroke-width="1.06"/>
<path d="M320.7 39.7 Q322.1 37.8 322.2 36.5 T323.7 33.3" stroke-opacity="0.37" stroke-width="1.04"/>
<path d="M304.2 123.0 Q303.4 121.1 302.2 121.1 T300.2 119.1" stroke-opacity="0.15" stroke-width="1.41"/>
<path d="M300.2 119.1 Q298.6 118.6 297.8 118.5 T295.4 117.8" stroke-opacity="0.20" stroke-width="1.75"/>
<path d="M334.0 113.0 Q333.8 113.7 333.4 113.8 T332.8 114.7" stroke-opacity="0.12" stroke-width="1.46"/>
<path d="M341.8 122.3 Q338.8 121.7 337.2 121.9 T332.7 121.5" stroke-opacity="0.17" stroke-width="1.29"/>
<path d="M332.7 121.5 Q333.0 119.3 332.7 118.1 T332.8 114.7" stroke-opacity="0.40" stroke-width="1.16"/>
<path d="M304.2 123.0 Q305.8 121.5 307.0 121.8 T309.8 120.6" stroke-opacity="0.30" stroke-width="1.21"/>
<path d="M309.8 120.6 Q310.8 121.6 311.6 121.4 T313.4 122.2" stroke-opacity="0.13" stroke-width="1.49"/>
<path d="M300.2 119.1 Q301.4 117.2 301.4 115.9 T302.6 112.7" stroke-opacity="0.22" stroke-width="1.20"/>
<path d="M309.8 120.6 Q309.1 118.4 310.0 117.4 T310.2 114.2" stroke-opacity="0.10" stroke-width="1.49"/>
<path d="M310.2 114.2 Q307.7 113.5 306.4 113.5 T302.6 112.7" stroke-opacity="0.09" stroke-width="1.01"/>
<path d="M308.0 96.6 Q305.6 96.4 304.4 96.3 T300.8 96.0" stroke-opacity="0.08" stroke-width="0.99"/>
<path d="M308.0 96.6 Q307.6 96.9 308.1 96.9 T308.2 97.2" stroke-opacity="0.38" stroke-width="1.15"/>
<path d="M308.2 97.2 Q306.2 100.3 304.8 101.4 T301.4 105.7" stroke-opacity="0.16" stroke-width="1.32"/>
<path d="M300.8 96.0 Q299.9 98.5 299.5 99.8 T298.1 103.6" stroke-opacity="0.21" stroke-width="1.53"/>
<path d="M298.1 103.6 Q298.7 104.1 298.3 104.5 T298.4 105.4" stroke-opacity="0.08" stroke-width="1.14"/>
<path d="M298.4 105.4 Q299.2 104.8 299.3 105.6 T300.1 105.9" stroke-opacity="0.39" stroke-width="1.37"/>
<path d="M300.1 105.9 Q300.6 106.3 300.8 105.8 T301.4 105.7" stroke-opacity="0.15" stroke-width="1.63"/>
<path d="M309.2 93.2 Q308.0 94.1 308.6 94.9 T308.0 96.6" stroke-opacity="0.11" stroke-width="1.37"/>
<path d="M297.2 88.9 Q298.3 91.3 299.0 92.4 T300.8 96.0" stroke-opacity="0.32" stroke-width="1.23"/>
<path d="M313.2 102.5 Q311.1 101.2 310.7 99.9 T308.2 97.2" stroke-opacity="0.27" stroke-width="1.14"/>
<path d="M313.2 102.5 Q314.0 102.0 314.6 102.2 T315.9 101.9" stroke-opacity="0.25" stroke-width="1.09"/>
<path d="M313.2 102.5 Q311.9 104.0 311.6 105.0 T310.0 107.5" stroke-opacity="0.29" stroke-width="1.31"/>
<path d="M310.0 107.5 Q307.0 107.5 305.7 106.6 T301.4 105.7" stroke-opacity="0.32" stroke-width="1.81"/>
<path d="M292.5 96.4 Q295.1 98.2 295.3 100.0 T298.1 103.6" stroke-opacity="0.26" stroke-width="1.35"/>
<path d="M294.8 107.5 Q296.2 107.1 296.6 106.4 T298.4 105.4" stroke-opacity="0.24" stroke-width="1.09"/>
<path d="M302.6 112.7 Q301.9 110.4 301.4 109.3 T300.1 105.9" stroke-opacity="0.09" stroke-width="1.17"/>
<path d="M310.0 107.5 Q310.6 108.8 310.7 109.6 T311.4 111.8" stroke-opacity="0.11" stroke-width="1.50"/>
<path d="M311.4 111.8 Q310.5 112.4 310.8 113.0 T310.2 114.2" stroke-opacity="0.10" stroke-width="1.10"/>
<path d="M394.2 29.7 Q392.1 31.8 391.5 33.3 T388.8 37.0" stroke-opacity="0.13" stroke-width="1.12"/>
<path d="M387.8 37.3 Q388.3 37.8 388.3 37.2 T388.8 37.0" stroke-opacity="0.37" stroke-width="1.10"/>
<path d="M297.9 37.5 Q298.4 36.0 297.4 35.5 T296.9 33.5" stroke-opacity="0.23" stroke-width="1.18"/>
<path d="M309.0 37.9 Q310.2 35.4 309.5 34.0 T310.1 30.2" stroke-opacity="0.31" stroke-width="1.33"/>
<path d="M313.4 122.2 Q313.6 122.6 313.7 122.2 T314.0 122.2" stroke-opacity="0.27" stroke-width="1.11"/>
<path d="M311.4 111.8 Q314.7 112.5 316.4 111.9 T321.4 112.1" stroke-opacity="0.46" stroke-width="1.75"/>
<path d="M314.0 122.2 Q316.5 118.8 317.7 117.1 T321.4 112.1" stroke-opacity="0.17" stroke-width="1.10"/>
<path d="M321.9 111.5 Q321.5 111.6 321.8 111.7 T321.8 111.9" stroke-opacity="0.49" stroke-width="1.27"/>
<path d="M332.8 114.7 Q329.7 114.8 328.1 114.5 T323.5 114.3" stroke-opacity="0.45" stroke-width="1.42"/>
<path d="M323.5 114.3 Q322.4 113.9 322.6 113.1 T321.8 111.9" stroke-opacity="0.38" stroke-width="1.62"/>
<path d="M321.8 111.9 Q321.4 111.1 321.6 112.0 T321.4 112.1" stroke-opacity="0.41" stroke-width="1.55"/>
<path d="M318.1 38.7 Q317.0 35.4 316.3 33.8 T314.4 28.9" stroke-opacity="0.16" stroke-width="1.11"/>
<path d="M320.0 123.8 Q321.2 122.3 322.2 121.9 T324.4 120.1" stroke-opacity="0.48" stroke-width="1.67"/>
<path d="M324.4 120.1 Q326.3 121.5 327.5 121.6 T330.6 123.2" stroke-opacity="0.24" stroke-width="1.81"/>
<path d="M323.5 114.3 Q323.1 116.3 324.0 117.2 T324.4 120.1" stroke-opacity="0.24" stroke-width="1.24"/>
<path d="M332.7 121.5 Q332.3 122.5 331.6 122.4 T330.6 123.2" stroke-opacity="0.24" stroke-width="1.71"/>
</g>
<ellipse cx="334" cy="66" rx="16" ry="14" fill="url(#mcg0)"/>
<ellipse cx="300" cy="75" rx="18" ry="20" fill="url(#mcg1)"/>
<rect x="283" y="38" width="104.2" height="79.5" fill="url(#mcv)"/>
</g>
<g clip-path="url(#mvc)">
<rect x="390" y="38" width="104.2" height="79.5" fill="url(#mvh)"/>
<g filter="url(#mvb1)">
<path d="M408.3 35.8 L409.2 35.9 L415.6 28.4 L411.7 21.5 L407.1 19.3 L404.7 20.9 L405.5 31.1Z" fill="#000" fill-opacity="0.07"/>
<path d="M384.0 39.7 L379.8 40.9 L377.7 39.0 L376.4 29.4 L379.8 27.5 L385.3 32.4Z" fill="#000" fill-opacity="0.16"/>
<path d="M394.5 31.5 L392.4 27.6 L386.8 32.4 L385.5 39.8 L388.9 40.7 L394.1 39.0Z" fill="#000" fill-opacity="0.11"/>
<path d="M407.1 37.1 L401.5 40.8 L395.7 39.2 L396.1 31.6 L404.3 32.4Z" fill="#000" fill-opacity="0.15"/>
<path d="M414.9 41.2 L410.6 37.1 L416.9 29.5 L421.7 30.0 L423.2 31.3 L420.2 42.1Z" fill="#000" fill-opacity="0.13"/>
<path d="M421.9 42.8 L431.5 40.7 L432.5 37.1 L430.0 32.5 L424.6 31.7 L421.5 42.5Z" fill="#000" fill-opacity="0.16"/>
<path d="M437.3 23.1 L431.6 31.3 L434.1 35.9 L440.1 35.2 L443.6 30.3 L437.5 23.1Z" fill="#000" fill-opacity="0.11"/>
<path d="M445.4 31.6 L452.2 31.9 L454.3 38.9 L454.1 39.6 L450.1 44.8 L448.0 45.5 L441.9 36.4Z" fill="#000" fill-opacity="0.10"/>
<path d="M469.0 32.4 L464.5 25.9 L455.0 29.0 L454.0 30.9 L456.1 38.0 L468.9 35.7Z" fill="#000" fill-opacity="0.05"/>
<path d="M482.6 41.4 L483.0 32.2 L477.7 28.4 L471.3 32.8 L471.2 36.1 L473.3 39.3Z" fill="#000" fill-opacity="0.12"/>
<path d="M484.4 41.5 L484.8 32.3 L489.7 28.2 L494.5 31.2 L493.1 39.3 L485.7 42.6Z" fill="#000" fill-opacity="0.07"/>
<path d="M496.8 30.5 L495.9 31.0 L494.6 39.0 L500.0 41.1 L504.5 29.9Z" fill="#000" fill-opacity="0.08"/>
<path d="M506.9 29.7 L511.6 32.9 L505.8 41.0 L501.2 41.5 L501.0 41.4 L505.5 30.2Z" fill="#000" fill-opacity="0.11"/>
<path d="M388.0 42.4 L391.2 51.8 L385.1 52.6 L379.1 47.1 L380.5 42.6 L384.7 41.4Z" fill="#000" fill-opacity="0.12"/>
<path d="M400.8 42.6 L400.8 50.2 L398.0 54.0 L395.4 54.1 L392.9 52.0 L389.7 42.7 L395.0 40.9Z" fill="#000" fill-opacity="0.06"/>
<path d="M410.9 49.3 L409.7 50.5 L402.6 49.7 L402.6 42.1 L408.1 38.4 L409.1 38.5 L413.4 42.6Z" fill="#000" fill-opacity="0.11"/>
<path d="M412.5 49.7 L421.4 53.5 L422.1 49.8 L420.6 44.2 L420.3 43.9 L415.0 43.0Z" fill="#000" fill-opacity="0.05"/>
<path d="M422.2 44.0 L431.8 42.0 L434.4 47.3 L433.7 48.6 L423.7 49.7Z" fill="#000" fill-opacity="0.05"/>
<path d="M440.4 37.1 L446.5 46.1 L446.3 46.3 L436.0 46.7 L433.4 41.4 L434.4 37.8Z" fill="#000" fill-opacity="0.11"/>
<path d="M451.3 46.2 L458.6 53.5 L465.4 49.2 L455.3 41.0Z" fill="#000" fill-opacity="0.13"/>
<path d="M471.6 40.4 L469.4 37.2 L456.6 39.5 L456.4 40.2 L466.5 48.4 L467.4 48.3Z" fill="#000" fill-opacity="0.10"/>
<path d="M484.3 47.7 L484.1 44.2 L482.8 43.1 L473.5 41.0 L469.4 48.9 L472.8 53.7Z" fill="#000" fill-opacity="0.12"/>
<path d="M486.6 47.8 L486.4 44.3 L493.8 41.0 L499.2 43.1 L499.4 43.2 L500.1 51.2 L491.0 55.6 L488.8 52.8Z" fill="#000" fill-opacity="0.14"/>
<path d="M505.8 42.7 L501.2 43.2 L501.9 51.2 L506.3 53.2 L510.9 46.9Z" fill="#000" fill-opacity="0.11"/>
<path d="M379.3 58.5 L382.8 58.3 L384.2 53.8 L378.1 48.3 L373.4 53.6 L373.5 54.0Z" fill="#000" fill-opacity="0.15"/>
<path d="M394.3 55.4 L388.9 62.8 L384.3 58.7 L385.8 54.2 L391.8 53.4Z" fill="#000" fill-opacity="0.10"/>
<path d="M409.4 52.3 L402.3 51.5 L399.4 55.3 L402.7 60.0 L409.6 61.3 L411.2 59.8Z" fill="#000" fill-opacity="0.14"/>
<path d="M412.1 50.9 L410.9 52.1 L412.6 59.6 L421.3 58.4 L420.9 54.7Z" fill="#000" fill-opacity="0.12"/>
<path d="M422.6 54.7 L422.9 58.4 L424.8 60.1 L433.0 55.4 L433.3 49.9 L423.3 51.0Z" fill="#000" fill-opacity="0.12"/>
<path d="M435.3 49.7 L436.0 48.4 L446.4 47.9 L443.8 59.5 L442.5 60.2 L435.0 55.2Z" fill="#000" fill-opacity="0.10"/>
<path d="M450.4 47.2 L448.3 47.8 L448.1 48.0 L445.6 59.6 L453.0 61.8 L457.5 59.4 L457.7 54.5Z" fill="#000" fill-opacity="0.14"/>
<path d="M471.1 56.3 L465.4 62.9 L459.6 59.6 L459.8 54.7 L466.6 50.4 L467.6 50.3 L471.0 55.0Z" fill="#000" fill-opacity="0.12"/>
<path d="M484.5 48.9 L472.9 54.9 L473.0 56.1 L476.5 58.7 L486.6 53.8Z" fill="#000" fill-opacity="0.14"/>
<path d="M487.4 54.6 L489.7 57.4 L489.7 58.3 L481.4 65.2 L478.7 63.4 L477.3 59.5Z" fill="#000" fill-opacity="0.14"/>
<path d="M497.0 65.9 L496.5 65.6 L492.0 58.2 L492.0 57.4 L501.1 53.1 L505.5 55.0 L507.1 58.2 L504.4 63.0Z" fill="#000" fill-opacity="0.12"/>
<path d="M380.0 60.1 L383.5 59.9 L388.1 64.0 L388.0 68.2 L382.3 69.4 L379.1 67.5Z" fill="#000" fill-opacity="0.09"/>
<path d="M389.6 68.0 L389.7 63.7 L395.2 56.4 L397.8 56.3 L401.0 61.0 L398.0 68.7 L391.4 69.4Z" fill="#000" fill-opacity="0.15"/>
<path d="M409.6 62.9 L410.2 70.6 L406.7 75.1 L399.6 69.3 L402.7 61.7Z" fill="#000" fill-opacity="0.12"/>
<path d="M425.5 69.1 L423.7 61.6 L421.8 59.9 L413.1 61.0 L411.6 62.5 L412.2 70.1 L424.4 69.9Z" fill="#000" fill-opacity="0.08"/>
<path d="M427.9 69.2 L437.9 68.9 L441.4 61.9 L433.9 56.8 L425.7 61.6 L427.6 69.1Z" fill="#000" fill-opacity="0.14"/>
<path d="M443.4 62.2 L439.9 69.3 L443.5 74.5 L452.4 70.4 L452.2 63.7 L444.7 61.5Z" fill="#000" fill-opacity="0.07"/>
<path d="M465.8 68.3 L455.5 71.4 L454.3 70.4 L454.1 63.7 L458.6 61.2 L464.3 64.5Z" fill="#000" fill-opacity="0.05"/>
<path d="M475.4 60.0 L476.7 64.0 L467.7 68.0 L467.6 67.9 L466.1 64.1 L471.8 57.5Z" fill="#000" fill-opacity="0.15"/>
<path d="M477.5 65.0 L480.3 66.8 L481.0 74.5 L481.0 74.5 L469.1 70.7 L468.5 69.0Z" fill="#000" fill-opacity="0.08"/>
<path d="M482.7 74.0 L494.7 66.6 L490.2 59.3 L481.9 66.2Z" fill="#000" fill-opacity="0.09"/>
<path d="M504.1 74.2 L510.6 71.3 L504.9 64.6 L497.6 67.5 L499.1 72.3Z" fill="#000" fill-opacity="0.10"/>
<path d="M388.4 69.6 L382.7 70.8 L379.8 78.8 L390.5 80.2 L390.1 71.0Z" fill="#000" fill-opacity="0.06"/>
<path d="M392.0 71.6 L398.6 70.8 L405.7 76.6 L405.8 80.8 L404.7 81.8 L393.8 83.2 L392.4 80.8Z" fill="#000" fill-opacity="0.10"/>
<path d="M423.6 71.8 L411.3 72.0 L407.9 76.5 L408.0 80.7 L410.5 81.6 L419.4 80.8Z" fill="#000" fill-opacity="0.09"/>
<path d="M427.0 71.1 L431.3 82.1 L424.7 85.8 L421.3 80.8 L425.5 71.7 L426.6 70.9Z" fill="#000" fill-opacity="0.05"/>
<path d="M428.6 71.1 L438.6 70.8 L442.1 76.0 L442.4 79.5 L436.7 83.2 L432.9 82.1Z" fill="#000" fill-opacity="0.09"/>
<path d="M456.7 79.3 L454.2 73.0 L453.0 72.0 L444.1 76.0 L444.4 79.5 L448.2 82.8Z" fill="#000" fill-opacity="0.12"/>
<path d="M462.7 80.4 L465.0 78.4 L467.1 71.3 L466.6 69.7 L466.4 69.5 L456.2 72.6 L458.6 78.9Z" fill="#000" fill-opacity="0.15"/>
<path d="M481.0 75.8 L481.5 79.6 L480.6 81.7 L478.1 82.6 L467.0 79.0 L469.1 71.9Z" fill="#000" fill-opacity="0.12"/>
<path d="M494.3 79.2 L483.6 78.9 L483.1 75.1 L483.1 75.1 L495.2 67.7 L495.7 68.0 L497.1 72.9Z" fill="#000" fill-opacity="0.16"/>
<path d="M499.8 87.2 L495.9 80.3 L498.7 74.1 L503.7 76.0 L506.1 83.9 L500.5 87.2Z" fill="#000" fill-opacity="0.12"/>
<path d="M379.2 80.5 L375.5 83.5 L375.0 84.3 L376.4 87.4 L378.8 90.5 L383.5 91.7 L391.2 84.7 L391.3 84.4 L389.9 81.9Z" fill="#000" fill-opacity="0.09"/>
<path d="M404.6 83.2 L393.8 84.6 L393.6 84.9 L397.8 94.6 L404.2 88.3Z" fill="#000" fill-opacity="0.12"/>
<path d="M410.6 98.2 L414.1 91.0 L409.8 83.4 L407.3 82.5 L406.2 83.5 L405.7 88.6 L409.1 97.7Z" fill="#000" fill-opacity="0.12"/>
<path d="M423.7 87.3 L423.6 89.0 L420.9 90.7 L415.7 90.6 L411.3 83.1 L420.2 82.3Z" fill="#000" fill-opacity="0.14"/>
<path d="M432.0 83.9 L435.8 85.0 L435.5 93.4 L431.2 95.7 L425.4 89.3 L425.5 87.6Z" fill="#000" fill-opacity="0.10"/>
<path d="M437.6 84.9 L443.3 81.2 L447.1 84.4 L448.6 91.8 L442.2 94.5 L437.2 93.2Z" fill="#000" fill-opacity="0.14"/>
<path d="M461.6 82.4 L462.3 91.6 L454.7 94.2 L450.6 91.7 L449.1 84.3 L457.5 80.9Z" fill="#000" fill-opacity="0.07"/>
<path d="M463.4 82.2 L465.8 80.2 L476.9 83.8 L472.1 89.4 L466.2 92.6 L464.1 91.5Z" fill="#000" fill-opacity="0.08"/>
<path d="M473.9 89.7 L478.7 84.2 L481.1 83.2 L485.2 91.4 L480.8 95.7Z" fill="#000" fill-opacity="0.10"/>
<path d="M498.1 87.9 L492.6 93.0 L486.6 91.0 L482.6 82.8 L483.5 80.7 L494.2 81.0Z" fill="#000" fill-opacity="0.08"/>
<path d="M386.2 99.1 L384.6 103.2 L376.0 106.3 L372.9 102.2 L378.5 92.7 L383.2 93.8Z" fill="#000" fill-opacity="0.08"/>
<path d="M396.7 95.7 L392.6 86.0 L384.9 93.1 L387.9 98.4 L396.4 99.1Z" fill="#000" fill-opacity="0.09"/>
<path d="M408.0 98.9 L399.2 100.9 L397.9 99.5 L398.2 96.1 L404.6 89.8Z" fill="#000" fill-opacity="0.13"/>
<path d="M420.4 92.4 L415.2 92.3 L411.7 99.6 L416.3 104.4 L417.8 103.7Z" fill="#000" fill-opacity="0.10"/>
<path d="M424.4 90.6 L421.6 92.3 L419.0 103.6 L420.9 103.3 L429.2 100.2 L430.2 97.0Z" fill="#000" fill-opacity="0.07"/>
<path d="M432.1 97.7 L431.1 100.8 L436.6 109.1 L438.3 110.3 L442.1 106.2 L441.3 96.6 L436.4 95.3Z" fill="#000" fill-opacity="0.06"/>
<path d="M452.9 102.6 L453.6 96.1 L449.5 93.6 L443.1 96.2 L443.8 105.8 L448.6 104.7Z" fill="#000" fill-opacity="0.14"/>
<path d="M458.5 107.4 L463.6 107.8 L464.3 107.4 L469.1 102.4 L465.2 94.8 L463.2 93.8 L455.5 96.3 L454.9 102.9Z" fill="#000" fill-opacity="0.13"/>
<path d="M478.4 100.2 L479.9 97.0 L473.0 91.1 L467.0 94.3 L470.9 101.8 L473.3 102.5Z" fill="#000" fill-opacity="0.12"/>
<path d="M480.5 100.4 L482.0 97.2 L486.3 92.9 L492.3 94.9 L493.3 101.2 L493.1 102.0 L485.7 104.0Z" fill="#000" fill-opacity="0.06"/>
<path d="M499.6 89.2 L494.1 94.3 L495.1 100.6 L503.4 100.6 L505.2 95.3 L500.4 89.2Z" fill="#000" fill-opacity="0.05"/>
<path d="M385.1 116.5 L376.3 108.3 L376.3 107.9 L384.9 104.8 L389.0 113.3Z" fill="#000" fill-opacity="0.08"/>
<path d="M396.6 100.8 L397.9 102.1 L397.5 112.1 L390.6 112.6 L386.5 104.0 L388.1 100.0Z" fill="#000" fill-opacity="0.05"/>
<path d="M410.4 100.9 L414.9 105.7 L413.9 109.3 L409.5 113.5 L399.9 112.5 L399.7 112.4 L400.0 102.4 L408.8 100.4Z" fill="#000" fill-opacity="0.07"/>
<path d="M418.4 105.2 L416.8 105.9 L415.9 109.5 L422.8 115.5 L427.0 111.4 L420.3 104.9Z" fill="#000" fill-opacity="0.16"/>
<path d="M421.6 104.6 L428.3 111.1 L435.4 109.8 L429.9 101.5Z" fill="#000" fill-opacity="0.10"/>
<path d="M450.6 115.8 L445.4 117.5 L439.5 112.4 L439.4 111.7 L443.2 107.6 L447.9 106.6Z" fill="#000" fill-opacity="0.13"/>
<path d="M451.9 115.5 L449.2 106.3 L453.6 104.2 L457.2 108.6 L453.5 115.4Z" fill="#000" fill-opacity="0.15"/>
<path d="M465.9 108.6 L470.7 103.6 L473.1 104.3 L478.0 115.3 L476.8 117.5Z" fill="#000" fill-opacity="0.10"/>
<path d="M479.4 101.7 L484.6 105.3 L483.1 113.1 L479.1 115.0 L474.2 104.0Z" fill="#000" fill-opacity="0.14"/>
<path d="M495.6 113.1 L493.5 103.6 L486.1 105.6 L484.6 113.4 L492.3 114.5Z" fill="#000" fill-opacity="0.11"/>
<path d="M499.0 113.4 L508.1 107.9 L508.1 107.5 L503.6 102.4 L495.3 102.4 L495.0 103.2 L497.1 112.7Z" fill="#000" fill-opacity="0.10"/>
<path d="M383.0 120.9 L381.6 121.5 L372.8 118.2 L372.7 114.8 L375.7 109.4 L384.5 117.5Z" fill="#000" fill-opacity="0.14"/>
<path d="M385.1 121.1 L386.6 117.7 L390.5 114.5 L397.4 114.1 L397.6 114.2 L397.5 120.4 L390.4 126.7Z" fill="#000" fill-opacity="0.07"/>
<path d="M409.1 115.5 L399.4 114.5 L399.3 120.7 L403.7 128.4 L410.3 121.8Z" fill="#000" fill-opacity="0.08"/>
<path d="M415.4 110.9 L410.9 115.2 L412.2 121.5 L415.6 123.8 L424.0 121.2 L422.3 116.9Z" fill="#000" fill-opacity="0.11"/>
<path d="M437.6 113.0 L437.5 112.3 L435.8 111.2 L428.7 112.5 L424.5 116.6 L426.2 120.9 L429.0 122.6 L432.7 119.3Z" fill="#000" fill-opacity="0.08"/>
<path d="M444.9 124.2 L444.9 118.8 L439.0 113.7 L434.1 120.0 L441.3 125.5Z" fill="#000" fill-opacity="0.06"/>
<path d="M451.9 117.4 L446.7 119.0 L446.7 124.5 L448.4 127.0 L460.2 125.2 L460.6 124.0 L453.4 117.2Z" fill="#000" fill-opacity="0.11"/>
<path d="M454.6 116.2 L461.8 123.1 L464.8 120.6 L463.4 110.0 L458.3 109.5Z" fill="#000" fill-opacity="0.13"/>
<path d="M465.4 109.5 L476.4 118.3 L475.9 119.6 L466.2 120.5 L464.8 109.9Z" fill="#000" fill-opacity="0.09"/>
<path d="M488.5 124.7 L491.2 116.0 L483.5 114.9 L479.6 116.8 L478.4 119.0 L477.9 120.2 L479.1 122.8 L487.5 125.5Z" fill="#000" fill-opacity="0.09"/>
<path d="M490.6 124.7 L493.3 116.0 L496.5 114.6 L498.4 115.4 L502.4 123.3 L500.2 125.5Z" fill="#000" fill-opacity="0.12"/>
<path d="M384.0 122.7 L382.6 123.3 L377.3 131.5 L384.1 135.9 L390.1 131.1 L389.2 128.2Z" fill="#000" fill-opacity="0.08"/>
<path d="M416.0 133.7 L404.2 131.3 L404.6 129.7 L411.2 123.0 L414.6 125.3Z" fill="#000" fill-opacity="0.08"/>
<path d="M440.1 126.5 L431.4 132.3 L430.7 132.4 L429.2 124.3 L432.9 121.0Z" fill="#000" fill-opacity="0.07"/>
<path d="M466.0 122.2 L463.0 124.7 L462.6 125.9 L463.2 128.6 L467.7 134.4 L475.4 131.4 L477.0 123.8 L475.8 121.2Z" fill="#000" fill-opacity="0.13"/>
</g>
<g filter="url(#mvb2)" fill="none" stroke="#fff" stroke-width="1.4" stroke-linejoin="round">
<path d="M443.1 75.8 Q446.5 74.2 448.3 73.4 T453.5 71.1" stroke-opacity="0.07" stroke-width="1.67"/>
<path d="M443.1 75.8 Q441.9 73.6 441.0 72.7 T438.9 69.7" stroke-opacity="0.08" stroke-width="1.54"/>
<path d="M438.9 69.7 Q439.7 66.7 440.9 65.6 T443.0 61.4" stroke-opacity="0.03" stroke-width="1.61"/>
<path d="M453.3 63.1 Q453.3 65.8 453.4 67.1 T453.5 71.1" stroke-opacity="0.06" stroke-width="1.71"/>
<path d="M453.3 63.1 Q450.1 63.0 448.9 61.9 T444.5 60.6" stroke-opacity="0.05" stroke-width="1.17"/>
<path d="M444.5 60.6 Q444.0 60.9 443.7 61.0 T443.0 61.4" stroke-opacity="0.09" stroke-width="1.66"/>
<path d="M398.4 113.3 Q395.6 112.9 394.3 113.6 T390.2 113.9" stroke-opacity="0.03" stroke-width="1.16"/>
<path d="M398.4 113.3 Q398.0 113.9 398.5 113.4 T398.6 113.5" stroke-opacity="0.12" stroke-width="1.76"/>
<path d="M398.6 113.5 Q398.5 115.9 398.5 117.1 T398.4 120.8" stroke-opacity="0.02" stroke-width="1.40"/>
<path d="M390.2 113.9 Q389.1 115.7 387.9 115.7 T385.6 117.6" stroke-opacity="0.03" stroke-width="1.13"/>
<path d="M385.3 103.8 Q387.4 107.0 387.8 108.8 T390.2 113.9" stroke-opacity="0.04" stroke-width="1.32"/>
<path d="M398.6 113.5 Q402.3 114.6 404.2 114.0 T409.9 114.6" stroke-opacity="0.11" stroke-width="1.31"/>
<path d="M411.4 122.0 Q410.3 119.7 410.6 118.3 T409.9 114.6" stroke-opacity="0.11" stroke-width="1.48"/>
<path d="M490.7 58.0 Q487.6 60.9 485.9 62.1 T481.0 66.2" stroke-opacity="0.08" stroke-width="1.32"/>
<path d="M490.7 58.0 Q492.0 61.2 493.4 62.3 T496.0 66.7" stroke-opacity="0.11" stroke-width="1.62"/>
<path d="M496.0 66.7 Q491.0 69.1 488.9 71.0 T481.8 75.3" stroke-opacity="0.09" stroke-width="1.15"/>
<path d="M481.0 66.2 Q481.2 69.2 481.4 70.7 T481.8 75.3" stroke-opacity="0.06" stroke-width="1.44"/>
<path d="M481.3 82.2 Q482.4 81.7 481.9 81.0 T482.5 79.8" stroke-opacity="0.05" stroke-width="1.35"/>
<path d="M481.3 82.2 Q480.1 81.9 479.9 82.8 T478.4 83.3" stroke-opacity="0.06" stroke-width="1.56"/>
<path d="M465.4 79.1 Q469.8 80.1 471.9 81.2 T478.4 83.3" stroke-opacity="0.11" stroke-width="1.24"/>
<path d="M465.4 79.1 Q466.1 76.3 466.6 74.9 T467.8 70.8" stroke-opacity="0.08" stroke-width="1.07"/>
<path d="M482.5 79.8 Q481.6 78.4 482.1 77.6 T481.8 75.3" stroke-opacity="0.08" stroke-width="1.64"/>
<path d="M467.8 70.8 Q472.6 71.8 474.8 73.0 T481.8 75.3" stroke-opacity="0.11" stroke-width="1.68"/>
<path d="M490.7 57.0 Q490.9 57.3 490.7 57.5 T490.7 58.0" stroke-opacity="0.08" stroke-width="1.44"/>
<path d="M490.7 57.0 Q494.2 55.3 496.0 54.5 T501.4 51.9" stroke-opacity="0.03" stroke-width="1.27"/>
<path d="M496.0 66.7 Q496.4 66.6 496.3 66.8 T496.6 67.0" stroke-opacity="0.03" stroke-width="1.63"/>
<path d="M383.7 92.8 Q386.3 89.6 388.2 88.7 T392.7 84.6" stroke-opacity="0.11" stroke-width="1.05"/>
<path d="M383.7 92.8 Q384.3 95.2 385.5 95.9 T387.2 99.1" stroke-opacity="0.09" stroke-width="1.40"/>
<path d="M392.7 84.6 Q395.1 88.0 395.2 90.3 T397.6 96.0" stroke-opacity="0.11" stroke-width="1.06"/>
<path d="M387.2 99.1 Q390.6 99.4 392.2 99.5 T397.2 100.0" stroke-opacity="0.10" stroke-width="1.19"/>
<path d="M397.2 100.0 Q397.2 98.6 397.4 98.0 T397.6 96.0" stroke-opacity="0.05" stroke-width="1.04"/>
<path d="M385.3 103.8 Q385.6 102.1 386.3 101.4 T387.2 99.1" stroke-opacity="0.03" stroke-width="1.69"/>
<path d="M398.8 101.6 Q398.9 105.5 398.6 107.4 T398.4 113.3" stroke-opacity="0.09" stroke-width="1.25"/>
<path d="M398.8 101.6 Q398.4 100.9 398.0 100.8 T397.2 100.0" stroke-opacity="0.08" stroke-width="1.03"/>
<path d="M398.5 69.6 Q400.5 66.9 400.3 65.1 T402.2 60.6" stroke-opacity="0.07" stroke-width="1.34"/>
<path d="M398.5 69.6 Q401.2 72.1 402.7 73.0 T406.9 76.3" stroke-opacity="0.05" stroke-width="1.22"/>
<path d="M411.0 71.1 Q410.2 73.3 408.9 73.7 T406.9 76.3" stroke-opacity="0.03" stroke-width="1.24"/>
<path d="M411.0 71.1 Q411.3 68.0 410.6 66.6 T410.3 62.1" stroke-opacity="0.11" stroke-width="0.99"/>
<path d="M402.2 60.6 Q404.9 60.8 406.2 61.3 T410.3 62.1" stroke-opacity="0.08" stroke-width="1.24"/>
<path d="M385.2 53.7 Q387.5 53.3 388.7 53.2 T392.3 52.7" stroke-opacity="0.06" stroke-width="1.68"/>
<path d="M388.9 63.8 Q387.1 62.1 386.2 61.4 T383.5 59.0" stroke-opacity="0.09" stroke-width="1.06"/>
<path d="M388.9 63.8 Q391.3 61.1 392.1 59.5 T395.3 55.1" stroke-opacity="0.11" stroke-width="1.39"/>
<path d="M392.3 52.7 Q393.6 53.1 393.8 53.9 T395.3 55.1" stroke-opacity="0.04" stroke-width="1.23"/>
<path d="M500.3 42.3 Q498.0 41.8 497.1 41.1 T493.9 39.9" stroke-opacity="0.06" stroke-width="1.35"/>
<path d="M495.5 30.4 Q494.9 33.5 494.7 35.1 T493.9 39.9" stroke-opacity="0.11" stroke-width="1.36"/>
<path d="M452.7 30.8 Q453.8 33.4 453.9 34.9 T455.2 39.0" stroke-opacity="0.09" stroke-width="1.70"/>
<path d="M455.2 39.0 Q460.2 38.2 462.7 37.7 T470.2 36.3" stroke-opacity="0.05" stroke-width="1.50"/>
<path d="M470.2 36.3 Q469.5 35.0 470.3 34.4 T470.3 32.5" stroke-opacity="0.05" stroke-width="1.39"/>
<path d="M409.9 114.6 Q411.4 112.7 412.5 112.1 T415.1 109.6" stroke-opacity="0.05" stroke-width="1.16"/>
<path d="M425.3 121.7 Q424.0 120.3 424.3 119.2 T423.3 116.7" stroke-opacity="0.10" stroke-width="1.34"/>
<path d="M423.3 116.7 Q420.2 114.7 419.2 113.2 T415.1 109.6" stroke-opacity="0.08" stroke-width="1.43"/>
<path d="M466.8 49.5 Q463.7 50.6 462.8 52.0 T458.8 54.5" stroke-opacity="0.09" stroke-width="1.42"/>
<path d="M466.8 49.5 Q462.4 46.8 460.9 44.7 T454.9 39.8" stroke-opacity="0.10" stroke-width="1.74"/>
<path d="M458.8 54.5 Q455.6 52.0 454.5 50.2 T450.2 46.0" stroke-opacity="0.07" stroke-width="1.54"/>
<path d="M454.9 39.8 Q452.8 41.4 452.6 42.9 T450.2 46.0" stroke-opacity="0.11" stroke-width="1.80"/>
<path d="M453.3 63.1 Q455.4 62.9 455.9 61.7 T458.5 60.3" stroke-opacity="0.08" stroke-width="1.26"/>
<path d="M447.5 46.9 Q446.2 51.4 446.0 53.7 T444.5 60.6" stroke-opacity="0.10" stroke-width="1.14"/>
<path d="M447.5 46.9 Q447.1 46.3 447.6 46.8 T447.7 46.7" stroke-opacity="0.03" stroke-width="1.25"/>
<path d="M447.7 46.7 Q448.5 46.2 449.0 46.3 T450.2 46.0" stroke-opacity="0.06" stroke-width="1.59"/>
<path d="M458.5 60.3 Q458.1 58.4 458.6 57.4 T458.8 54.5" stroke-opacity="0.09" stroke-width="1.17"/>
<path d="M455.2 39.0 Q454.3 39.0 455.1 39.4 T454.9 39.8" stroke-opacity="0.10" stroke-width="1.80"/>
<path d="M470.2 36.3 Q471.4 37.4 471.5 38.2 T472.8 40.1" stroke-opacity="0.07" stroke-width="1.55"/>
<path d="M466.8 49.5 Q467.3 50.2 467.3 49.4 T467.9 49.3" stroke-opacity="0.10" stroke-width="1.79"/>
<path d="M467.9 49.3 Q468.8 45.9 470.3 44.7 T472.8 40.1" stroke-opacity="0.05" stroke-width="1.75"/>
<path d="M484.1 31.7 Q484.7 35.3 483.9 37.1 T483.6 42.5" stroke-opacity="0.09" stroke-width="1.55"/>
<path d="M472.8 40.1 Q476.4 41.0 478.2 41.3 T483.6 42.5" stroke-opacity="0.05" stroke-width="1.13"/>
<path d="M493.9 39.9 Q491.1 41.5 489.5 41.8 T485.2 43.8" stroke-opacity="0.03" stroke-width="1.22"/>
<path d="M485.2 43.8 Q484.9 43.1 484.4 43.1 T483.6 42.5" stroke-opacity="0.08" stroke-width="1.44"/>
<path d="M453.5 71.1 Q454.1 71.4 454.2 71.7 T455.0 72.3" stroke-opacity="0.08" stroke-width="0.99"/>
<path d="M455.0 72.3 Q459.2 71.7 461.0 70.4 T467.0 68.6" stroke-opacity="0.04" stroke-width="1.38"/>
<path d="M458.5 60.3 Q460.9 61.4 461.9 62.2 T465.3 64.2" stroke-opacity="0.12" stroke-width="1.46"/>
<path d="M465.3 64.2 Q466.7 65.3 466.2 66.4 T467.0 68.6" stroke-opacity="0.12" stroke-width="1.76"/>
<path d="M481.0 66.2 Q479.9 65.5 479.4 65.1 T477.7 64.1" stroke-opacity="0.02" stroke-width="1.72"/>
<path d="M467.8 70.8 Q468.4 69.9 467.5 69.8 T467.2 68.8" stroke-opacity="0.06" stroke-width="1.64"/>
<path d="M481.8 75.3 Q481.6 75.2 481.8 75.3 T481.8 75.3" stroke-opacity="0.06" stroke-width="1.76"/>
<path d="M467.2 68.8 Q470.8 67.4 472.5 66.5 T477.7 64.1" stroke-opacity="0.09" stroke-width="1.54"/>
<path d="M481.3 82.2 Q483.4 85.2 483.7 87.1 T486.1 91.9" stroke-opacity="0.05" stroke-width="1.10"/>
<path d="M478.4 83.3 Q477.1 86.0 475.6 86.6 T472.8 89.9" stroke-opacity="0.02" stroke-width="1.28"/>
<path d="M486.1 91.9 Q484.0 93.2 483.5 94.4 T481.0 96.9" stroke-opacity="0.06" stroke-width="1.12"/>
<path d="M481.0 96.9 Q478.7 94.1 476.9 93.4 T472.8 89.9" stroke-opacity="0.04" stroke-width="1.52"/>
<path d="M485.4 104.9 Q483.5 103.3 482.3 102.8 T479.2 100.7" stroke-opacity="0.02" stroke-width="1.23"/>
<path d="M485.4 104.9 Q485.4 108.0 484.5 109.4 T483.6 114.0" stroke-opacity="0.07" stroke-width="1.57"/>
<path d="M483.6 114.0 Q482.2 115.1 481.3 115.1 T478.9 116.2" stroke-opacity="0.11" stroke-width="1.62"/>
<path d="M478.9 116.2 Q477.7 111.6 476.0 109.8 T473.2 103.3" stroke-opacity="0.06" stroke-width="1.43"/>
<path d="M473.2 103.3 Q475.5 103.2 476.2 102.0 T479.2 100.7" stroke-opacity="0.04" stroke-width="1.21"/>
<path d="M494.0 102.5 Q493.3 101.9 494.2 102.1 T494.4 101.6" stroke-opacity="0.03" stroke-width="1.43"/>
<path d="M494.0 102.5 Q491.4 104.1 489.7 103.7 T485.4 104.9" stroke-opacity="0.06" stroke-width="1.15"/>
<path d="M486.1 91.9 Q488.6 92.3 489.6 93.1 T493.1 94.2" stroke-opacity="0.05" stroke-width="1.72"/>
<path d="M493.1 94.2 Q493.8 96.6 493.7 97.9 T494.4 101.6" stroke-opacity="0.09" stroke-width="1.35"/>
<path d="M481.0 96.9 Q481.0 98.4 480.1 98.8 T479.2 100.7" stroke-opacity="0.05" stroke-width="1.18"/>
<path d="M470.3 102.6 Q469.5 99.3 468.1 98.1 T465.8 93.6" stroke-opacity="0.06" stroke-width="1.13"/>
<path d="M470.3 102.6 Q471.3 102.6 471.8 102.9 T473.2 103.3" stroke-opacity="0.05" stroke-width="1.06"/>
<path d="M472.8 89.9 Q470.7 91.6 469.3 91.8 T465.8 93.6" stroke-opacity="0.05" stroke-width="1.58"/>
<path d="M477.0 120.3 Q476.9 119.7 477.3 119.5 T477.5 118.8" stroke-opacity="0.09" stroke-width="1.41"/>
<path d="M477.0 120.3 Q473.1 120.2 471.3 120.8 T465.5 121.4" stroke-opacity="0.09" stroke-width="1.32"/>
<path d="M477.5 118.8 Q473.8 114.7 471.1 113.6 T464.7 108.4" stroke-opacity="0.07" stroke-width="1.12"/>
<path d="M465.5 121.4 Q465.2 117.2 464.7 115.2 T463.9 108.9" stroke-opacity="0.04" stroke-width="1.27"/>
<path d="M463.9 108.9 Q464.5 109.2 464.3 108.7 T464.7 108.4" stroke-opacity="0.08" stroke-width="1.50"/>
<path d="M478.4 123.3 Q477.5 122.5 477.7 121.8 T477.0 120.3" stroke-opacity="0.12" stroke-width="1.62"/>
<path d="M470.3 102.6 Q468.3 104.3 467.5 105.5 T464.7 108.4" stroke-opacity="0.10" stroke-width="1.06"/>
<path d="M478.9 116.2 Q479.1 117.4 478.2 117.5 T477.5 118.8" stroke-opacity="0.02" stroke-width="1.01"/>
<path d="M447.9 83.8 Q451.0 81.8 452.9 81.7 T457.8 79.7" stroke-opacity="0.05" stroke-width="1.69"/>
<path d="M447.9 83.8 Q449.3 86.5 448.8 88.1 T449.7 92.5" stroke-opacity="0.09" stroke-width="1.60"/>
<path d="M449.7 92.5 Q451.2 93.6 452.0 93.9 T454.4 95.4" stroke-opacity="0.11" stroke-width="1.42"/>
<path d="M454.4 95.4 Q457.5 94.8 458.9 93.9 T463.4 92.4" stroke-opacity="0.03" stroke-width="1.57"/>
<path d="M463.4 92.4 Q463.7 88.7 463.0 86.9 T462.6 81.4" stroke-opacity="0.08" stroke-width="1.34"/>
<path d="M457.8 79.7 Q459.4 80.3 460.2 80.6 T462.6 81.4" stroke-opacity="0.03" stroke-width="1.79"/>
<path d="M443.1 75.8 Q444.1 77.1 443.2 77.9 T443.4 79.9" stroke-opacity="0.08" stroke-width="1.30"/>
<path d="M443.4 79.9 Q444.7 81.4 445.6 81.8 T447.9 83.8" stroke-opacity="0.06" stroke-width="1.65"/>
<path d="M455.0 72.3 Q456.7 74.4 456.4 76.0 T457.8 79.7" stroke-opacity="0.04" stroke-width="1.37"/>
<path d="M465.4 79.1 Q464.7 80.2 464.0 80.3 T462.6 81.4" stroke-opacity="0.07" stroke-width="1.57"/>
<path d="M465.8 93.6 Q465.1 93.1 464.6 93.0 T463.4 92.4" stroke-opacity="0.09" stroke-width="1.41"/>
<path d="M467.0 68.6 Q466.8 68.9 467.1 68.7 T467.2 68.8" stroke-opacity="0.11" stroke-width="1.34"/>
<path d="M445.6 118.5 Q444.7 120.6 445.6 121.7 T445.6 124.9" stroke-opacity="0.03" stroke-width="1.47"/>
<path d="M445.6 118.5 Q442.7 117.1 442.2 115.5 T438.7 112.5" stroke-opacity="0.06" stroke-width="1.51"/>
<path d="M432.9 119.9 Q434.2 117.0 435.8 116.2 T438.7 112.5" stroke-opacity="0.02" stroke-width="1.59"/>
<path d="M428.5 123.7 Q429.7 122.1 430.7 121.8 T432.9 119.9" stroke-opacity="0.09" stroke-width="1.10"/>
<path d="M436.6 110.3 Q437.3 110.6 437.6 111.0 T438.5 111.7" stroke-opacity="0.09" stroke-width="1.76"/>
<path d="M436.6 110.3 Q433.9 111.3 432.4 111.1 T428.2 111.8" stroke-opacity="0.04" stroke-width="1.74"/>
<path d="M438.5 111.7 Q437.8 112.1 438.6 112.1 T438.7 112.5" stroke-opacity="0.03" stroke-width="1.62"/>
<path d="M428.2 111.8 Q426.1 112.9 425.7 114.3 T423.3 116.7" stroke-opacity="0.09" stroke-width="1.32"/>
<path d="M409.9 82.4 Q408.7 82.7 408.5 81.8 T407.0 81.3" stroke-opacity="0.07" stroke-width="1.63"/>
<path d="M409.9 82.4 Q411.0 85.7 412.5 86.8 T415.0 91.3" stroke-opacity="0.09" stroke-width="1.68"/>
<path d="M405.1 88.5 Q405.9 86.6 405.4 85.5 T405.7 82.5" stroke-opacity="0.04" stroke-width="1.82"/>
<path d="M405.1 88.5 Q406.4 92.1 407.1 93.8 T409.1 99.2" stroke-opacity="0.05" stroke-width="1.15"/>
<path d="M405.7 82.5 Q405.8 81.7 406.3 81.9 T407.0 81.3" stroke-opacity="0.02" stroke-width="1.28"/>
<path d="M415.0 91.3 Q413.2 93.9 413.0 95.5 T410.9 99.8" stroke-opacity="0.02" stroke-width="1.04"/>
<path d="M409.1 99.2 Q409.9 98.7 410.0 99.5 T410.9 99.8" stroke-opacity="0.06" stroke-width="1.54"/>
<path d="M392.9 84.2 Q392.8 84.3 392.8 84.4 T392.7 84.6" stroke-opacity="0.09" stroke-width="1.35"/>
<path d="M392.9 84.2 Q397.1 83.0 399.3 83.3 T405.7 82.5" stroke-opacity="0.08" stroke-width="1.65"/>
<path d="M397.6 96.0 Q400.2 93.6 401.4 92.2 T405.1 88.5" stroke-opacity="0.05" stroke-width="1.35"/>
<path d="M398.8 101.6 Q402.3 101.0 403.9 100.4 T409.1 99.2" stroke-opacity="0.12" stroke-width="1.75"/>
<path d="M415.1 109.6 Q415.1 108.1 415.7 107.5 T416.3 105.4" stroke-opacity="0.10" stroke-width="1.32"/>
<path d="M416.3 105.4 Q414.5 103.6 413.6 102.6 T410.9 99.8" stroke-opacity="0.04" stroke-width="1.23"/>
<path d="M436.6 110.3 Q434.0 107.4 433.3 105.4 T430.1 100.6" stroke-opacity="0.11" stroke-width="1.25"/>
<path d="M428.2 111.8 Q426.0 108.9 424.3 108.1 T420.3 104.3" stroke-opacity="0.07" stroke-width="1.45"/>
<path d="M430.1 100.6 Q426.9 101.9 425.2 102.4 T420.3 104.3" stroke-opacity="0.11" stroke-width="1.18"/>
<path d="M416.3 105.4 Q416.7 104.7 417.2 105.0 T418.1 104.6" stroke-opacity="0.08" stroke-width="1.11"/>
<path d="M420.3 104.3 Q419.6 104.4 419.2 104.4 T418.1 104.6" stroke-opacity="0.03" stroke-width="1.62"/>
<path d="M415.0 91.3 Q417.1 91.7 418.1 91.3 T421.2 91.3" stroke-opacity="0.05" stroke-width="1.24"/>
<path d="M418.1 104.6 Q418.6 100.0 419.6 97.9 T421.2 91.3" stroke-opacity="0.07" stroke-width="1.49"/>
<path d="M447.5 46.9 Q443.5 46.8 441.4 47.2 T435.3 47.5" stroke-opacity="0.12" stroke-width="1.62"/>
<path d="M443.0 61.4 Q440.1 59.2 438.5 58.4 T434.1 55.5" stroke-opacity="0.10" stroke-width="1.12"/>
<path d="M435.3 47.5 Q434.3 47.6 434.9 48.2 T434.5 49.0" stroke-opacity="0.04" stroke-width="1.78"/>
<path d="M434.1 55.5 Q433.6 53.3 434.3 52.2 T434.5 49.0" stroke-opacity="0.05" stroke-width="1.81"/>
<path d="M471.9 54.9 Q476.6 53.0 478.7 51.4 T485.5 47.9" stroke-opacity="0.04" stroke-width="1.20"/>
<path d="M471.9 54.9 Q472.7 55.4 471.9 55.7 T472.0 56.4" stroke-opacity="0.07" stroke-width="1.76"/>
<path d="M472.0 56.4 Q473.7 57.0 474.1 57.9 T476.2 59.4" stroke-opacity="0.05" stroke-width="1.61"/>
<path d="M476.2 59.4 Q480.1 57.5 482.1 56.6 T488.0 53.7" stroke-opacity="0.06" stroke-width="1.73"/>
<path d="M488.0 53.7 Q486.8 52.0 486.7 50.8 T485.5 47.9" stroke-opacity="0.06" stroke-width="1.27"/>
<path d="M467.9 49.3 Q469.4 51.1 469.9 52.1 T471.9 54.9" stroke-opacity="0.06" stroke-width="1.52"/>
<path d="M485.2 43.8 Q485.7 45.1 485.3 45.9 T485.5 47.9" stroke-opacity="0.03" stroke-width="1.78"/>
<path d="M465.3 64.2 Q467.2 61.3 468.7 60.3 T472.0 56.4" stroke-opacity="0.06" stroke-width="1.61"/>
<path d="M477.7 64.1 Q477.2 62.5 476.9 61.7 T476.2 59.4" stroke-opacity="0.05" stroke-width="1.26"/>
<path d="M490.7 57.0 Q489.5 56.1 489.3 55.4 T488.0 53.7" stroke-opacity="0.11" stroke-width="1.04"/>
<path d="M494.0 102.5 Q495.5 106.0 495.2 108.1 T496.5 113.6" stroke-opacity="0.04" stroke-width="1.38"/>
<path d="M483.6 114.0 Q486.7 114.0 488.1 114.6 T492.7 115.3" stroke-opacity="0.06" stroke-width="1.53"/>
<path d="M492.7 115.3 Q493.6 113.9 494.6 114.4 T496.5 113.6" stroke-opacity="0.08" stroke-width="1.34"/>
<path d="M504.0 101.6 Q500.8 102.1 499.2 101.6 T494.4 101.6" stroke-opacity="0.03" stroke-width="1.00"/>
<path d="M496.5 113.6 Q497.0 114.3 497.6 114.1 T498.6 114.6" stroke-opacity="0.08" stroke-width="1.62"/>
<path d="M448.6 105.6 Q450.6 105.4 451.1 104.4 T453.7 103.1" stroke-opacity="0.08" stroke-width="1.30"/>
<path d="M448.6 105.6 Q449.3 109.3 450.2 111.1 T451.7 116.5" stroke-opacity="0.05" stroke-width="1.40"/>
<path d="M453.7 103.1 Q455.5 104.5 455.8 105.8 T457.9 108.4" stroke-opacity="0.08" stroke-width="1.07"/>
<path d="M457.9 108.4 Q456.6 111.1 455.7 112.4 T453.5 116.3" stroke-opacity="0.06" stroke-width="1.33"/>
<path d="M453.5 116.3 Q452.9 116.4 452.6 116.4 T451.7 116.5" stroke-opacity="0.05" stroke-width="1.75"/>
<path d="M443.0 106.9 Q443.2 103.1 442.6 101.2 T442.1 95.6" stroke-opacity="0.07" stroke-width="1.60"/>
<path d="M443.0 106.9 Q444.8 106.3 445.8 106.2 T448.6 105.6" stroke-opacity="0.02" stroke-width="1.15"/>
<path d="M442.1 95.6 Q444.8 94.9 445.9 94.0 T449.7 92.5" stroke-opacity="0.07" stroke-width="1.30"/>
<path d="M454.4 95.4 Q453.7 97.9 454.1 99.3 T453.7 103.1" stroke-opacity="0.04" stroke-width="1.40"/>
<path d="M438.5 111.7 Q440.6 110.7 440.8 109.3 T443.0 106.9" stroke-opacity="0.11" stroke-width="1.09"/>
<path d="M445.6 118.5 Q447.4 117.1 448.7 117.5 T451.7 116.5" stroke-opacity="0.11" stroke-width="1.50"/>
<path d="M463.9 108.9 Q461.8 109.6 460.9 108.7 T457.9 108.4" stroke-opacity="0.02" stroke-width="1.59"/>
<path d="M462.0 124.3 Q459.0 121.8 457.8 120.3 T453.5 116.3" stroke-opacity="0.03" stroke-width="1.68"/>
<path d="M498.3 72.8 Q497.4 75.3 496.7 76.5 T495.0 80.1" stroke-opacity="0.05" stroke-width="1.04"/>
<path d="M495.0 80.1 Q497.0 82.6 497.3 84.2 T499.6 88.2" stroke-opacity="0.08" stroke-width="1.39"/>
<path d="M496.6 67.0 Q497.3 68.9 497.5 69.9 T498.3 72.8" stroke-opacity="0.10" stroke-width="1.36"/>
<path d="M482.5 79.8 Q486.6 80.2 488.8 80.0 T495.0 80.1" stroke-opacity="0.06" stroke-width="1.40"/>
<path d="M493.1 94.2 Q495.6 92.6 496.4 91.2 T499.6 88.2" stroke-opacity="0.04" stroke-width="1.22"/>
<path d="M442.1 95.6 Q440.0 95.7 439.2 94.8 T436.3 94.1" stroke-opacity="0.02" stroke-width="1.34"/>
<path d="M430.1 100.6 Q431.1 99.6 430.7 98.7 T431.3 96.9" stroke-opacity="0.08" stroke-width="1.62"/>
<path d="M436.3 94.1 Q434.5 94.9 433.8 95.5 T431.3 96.9" stroke-opacity="0.02" stroke-width="1.68"/>
<path d="M443.4 79.9 Q441.1 81.3 440.0 82.1 T436.7 84.3" stroke-opacity="0.06" stroke-width="1.76"/>
<path d="M436.3 94.1 Q435.7 90.8 436.5 89.2 T436.7 84.3" stroke-opacity="0.07" stroke-width="1.68"/>
<path d="M421.2 91.3 Q422.0 90.3 422.8 90.3 T424.4 89.3" stroke-opacity="0.04" stroke-width="1.54"/>
<path d="M431.3 96.9 Q429.3 94.0 427.8 93.1 T424.4 89.3" stroke-opacity="0.07" stroke-width="1.19"/>
<path d="M391.3 81.3 Q391.8 77.6 391.0 75.9 T390.8 70.5" stroke-opacity="0.08" stroke-width="1.52"/>
<path d="M382.1 70.2 Q384.2 69.2 385.4 69.5 T388.8 68.8" stroke-opacity="0.12" stroke-width="0.98"/>
<path d="M390.8 70.5 Q390.3 69.7 389.8 69.7 T388.8 68.8" stroke-opacity="0.04" stroke-width="1.08"/>
<path d="M392.9 84.2 Q392.1 83.3 392.1 82.7 T391.3 81.3" stroke-opacity="0.06" stroke-width="1.35"/>
<path d="M398.5 69.6 Q395.9 69.4 394.7 70.0 T390.8 70.5" stroke-opacity="0.08" stroke-width="1.56"/>
<path d="M406.9 76.3 Q407.6 78.0 407.0 78.8 T407.0 81.3" stroke-opacity="0.03" stroke-width="1.03"/>
<path d="M388.9 63.8 Q389.3 65.5 388.8 66.3 T388.8 68.8" stroke-opacity="0.05" stroke-width="1.30"/>
<path d="M402.2 60.6 Q400.7 58.9 400.2 57.8 T398.3 55.0" stroke-opacity="0.11" stroke-width="1.02"/>
<path d="M395.3 55.1 Q396.3 54.7 396.8 55.1 T398.3 55.0" stroke-opacity="0.08" stroke-width="1.27"/>
<path d="M433.5 37.0 Q433.0 34.9 432.0 34.3 T430.5 31.6" stroke-opacity="0.09" stroke-width="1.37"/>
<path d="M433.5 37.0 Q435.8 36.4 437.0 36.5 T440.6 36.1" stroke-opacity="0.10" stroke-width="1.49"/>
<path d="M440.6 36.1 Q442.5 34.6 442.6 33.2 T444.7 30.4" stroke-opacity="0.10" stroke-width="1.31"/>
<path d="M447.7 46.7 Q445.1 43.4 444.2 41.4 T440.6 36.1" stroke-opacity="0.10" stroke-width="1.18"/>
<path d="M435.3 47.5 Q435.0 45.1 433.8 44.3 T432.3 41.2" stroke-opacity="0.08" stroke-width="1.05"/>
<path d="M432.3 41.2 Q433.1 39.9 432.9 39.1 T433.5 37.0" stroke-opacity="0.09" stroke-width="1.50"/>
<path d="M386.1 32.0 Q386.4 35.0 385.4 36.3 T384.7 40.6" stroke-opacity="0.10" stroke-width="1.41"/>
<path d="M392.3 52.7 Q391.1 49.0 390.5 47.2 T388.6 41.7" stroke-opacity="0.03" stroke-width="1.51"/>
<path d="M384.7 40.6 Q386.0 40.9 386.6 41.1 T388.6 41.7" stroke-opacity="0.03" stroke-width="1.59"/>
<path d="M410.3 62.1 Q411.0 61.7 411.2 61.2 T412.1 60.4" stroke-opacity="0.09" stroke-width="1.37"/>
<path d="M398.3 55.0 Q399.1 53.3 400.0 52.8 T401.7 50.6" stroke-opacity="0.11" stroke-width="1.13"/>
<path d="M401.7 50.6 Q404.4 51.3 405.8 51.1 T410.0 51.5" stroke-opacity="0.10" stroke-width="1.30"/>
<path d="M412.1 60.4 Q411.6 57.4 411.1 56.0 T410.0 51.5" stroke-opacity="0.03" stroke-width="1.55"/>
<path d="M492.7 115.3 Q492.3 118.9 491.1 120.4 T489.5 125.5" stroke-opacity="0.03" stroke-width="1.09"/>
<path d="M420.4 81.4 Q421.9 77.8 422.9 76.1 T425.4 70.8" stroke-opacity="0.06" stroke-width="1.42"/>
<path d="M420.4 81.4 Q421.3 83.7 422.5 84.4 T424.5 87.3" stroke-opacity="0.08" stroke-width="1.67"/>
<path d="M424.5 87.3 Q427.1 85.9 428.4 85.1 T432.2 83.0" stroke-opacity="0.09" stroke-width="1.76"/>
<path d="M432.2 83.0 Q430.4 78.7 429.7 76.5 T427.1 70.0" stroke-opacity="0.10" stroke-width="1.68"/>
<path d="M425.4 70.8 Q425.6 70.1 426.1 70.3 T426.7 69.9" stroke-opacity="0.04" stroke-width="1.51"/>
<path d="M426.7 69.9 Q426.6 70.7 426.9 69.9 T427.1 70.0" stroke-opacity="0.06" stroke-width="1.71"/>
<path d="M411.0 71.1 Q415.8 71.6 418.2 70.9 T425.4 70.8" stroke-opacity="0.04" stroke-width="1.22"/>
<path d="M409.9 82.4 Q413.3 81.2 415.2 81.9 T420.4 81.4" stroke-opacity="0.08" stroke-width="1.54"/>
<path d="M424.4 89.3 Q425.2 88.7 424.5 88.3 T424.5 87.3" stroke-opacity="0.03" stroke-width="1.30"/>
<path d="M436.7 84.3 Q435.0 84.6 434.5 83.6 T432.2 83.0" stroke-opacity="0.04" stroke-width="0.98"/>
<path d="M438.9 69.7 Q435.0 70.0 433.0 69.9 T427.1 70.0" stroke-opacity="0.10" stroke-width="1.32"/>
<path d="M424.5 61.0 Q423.9 60.2 423.4 60.0 T422.3 59.0" stroke-opacity="0.03" stroke-width="1.52"/>
<path d="M424.5 61.0 Q425.1 64.0 425.6 65.5 T426.7 69.9" stroke-opacity="0.09" stroke-width="1.61"/>
<path d="M412.1 60.4 Q415.5 60.1 417.2 59.7 T422.3 59.0" stroke-opacity="0.10" stroke-width="1.51"/>
<path d="M434.1 55.5 Q430.6 56.9 429.3 58.3 T424.5 61.0" stroke-opacity="0.11" stroke-width="1.71"/>
<path d="M394.8 39.7 Q395.4 36.7 395.0 35.2 T395.3 30.8" stroke-opacity="0.04" stroke-width="1.54"/>
<path d="M394.8 39.7 Q397.1 40.1 398.2 40.7 T401.6 41.6" stroke-opacity="0.06" stroke-width="1.80"/>
<path d="M401.6 41.6 Q403.8 40.1 404.9 39.5 T408.2 37.3" stroke-opacity="0.04" stroke-width="1.50"/>
<path d="M404.9 31.8 Q406.7 33.2 406.5 34.5 T408.2 37.3" stroke-opacity="0.05" stroke-width="1.14"/>
<path d="M388.6 41.7 Q390.9 41.6 391.7 40.7 T394.8 39.7" stroke-opacity="0.09" stroke-width="1.44"/>
<path d="M401.7 50.6 Q401.2 47.6 401.6 46.1 T401.6 41.6" stroke-opacity="0.05" stroke-width="1.63"/>
<path d="M409.3 37.4 Q409.0 36.8 408.7 37.4 T408.2 37.3" stroke-opacity="0.02" stroke-width="1.64"/>
<path d="M422.7 50.3 Q422.8 51.8 422.3 52.4 T421.8 54.6" stroke-opacity="0.09" stroke-width="1.46"/>
<path d="M422.7 50.3 Q421.8 48.2 421.9 47.0 T421.0 43.6" stroke-opacity="0.06" stroke-width="1.65"/>
<path d="M421.8 54.6 Q418.4 53.0 416.7 52.4 T411.5 50.1" stroke-opacity="0.10" stroke-width="1.33"/>
<path d="M420.6 43.3 Q420.4 43.8 420.8 43.5 T421.0 43.6" stroke-opacity="0.09" stroke-width="1.16"/>
<path d="M420.6 43.3 Q418.6 42.3 417.4 42.8 T414.3 42.3" stroke-opacity="0.09" stroke-width="1.15"/>
<path d="M414.3 42.3 Q413.5 44.9 412.9 46.2 T411.5 50.1" stroke-opacity="0.12" stroke-width="1.65"/>
<path d="M434.5 49.0 Q430.6 49.9 428.6 49.6 T422.7 50.3" stroke-opacity="0.11" stroke-width="1.61"/>
<path d="M422.3 59.0 Q421.8 57.6 422.1 56.8 T421.8 54.6" stroke-opacity="0.09" stroke-width="1.18"/>
<path d="M432.3 41.2 Q428.6 42.2 426.6 42.4 T421.0 43.6" stroke-opacity="0.05" stroke-width="1.82"/>
<path d="M410.0 51.5 Q410.0 50.5 410.7 50.8 T411.5 50.1" stroke-opacity="0.03" stroke-width="1.50"/>
<path d="M424.2 30.6 Q423.2 34.9 422.4 36.9 T420.6 43.3" stroke-opacity="0.08" stroke-width="1.25"/>
<path d="M409.3 37.4 Q411.1 38.9 411.8 39.8 T414.3 42.3" stroke-opacity="0.03" stroke-width="1.74"/>
</g>
<g filter="url(#mvb3)" stroke="#000" stroke-linecap="round">
<line x1="417.8" y1="94.6" x2="424.5" y2="92.5" stroke-opacity="0.31" stroke-width="1.7"/>
<line x1="404.3" y1="75.0" x2="409.3" y2="73.7" stroke-opacity="0.50" stroke-width="1.7"/>
<line x1="412.9" y1="66.5" x2="419.0" y2="63.8" stroke-opacity="0.48" stroke-width="1.7"/>
<line x1="419.0" y1="74.2" x2="425.5" y2="71.8" stroke-opacity="0.31" stroke-width="1.7"/>
<line x1="409.8" y1="68.3" x2="418.0" y2="66.1" stroke-opacity="0.44" stroke-width="1.7"/>
<line x1="419.8" y1="66.1" x2="427.8" y2="62.8" stroke-opacity="0.30" stroke-width="1.7"/>
<line x1="414.6" y1="55.1" x2="421.3" y2="52.8" stroke-opacity="0.34" stroke-width="1.7"/>
<line x1="402.4" y1="94.5" x2="408.4" y2="92.8" stroke-opacity="0.44" stroke-width="1.7"/>
<line x1="406.4" y1="94.1" x2="412.0" y2="92.4" stroke-opacity="0.46" stroke-width="1.7"/>
<line x1="408.2" y1="79.8" x2="414.0" y2="78.4" stroke-opacity="0.49" stroke-width="1.7"/>
<line x1="394.7" y1="96.4" x2="400.7" y2="93.8" stroke-opacity="0.38" stroke-width="1.7"/>
<line x1="422.0" y1="82.3" x2="427.5" y2="80.1" stroke-opacity="0.43" stroke-width="1.7"/>
<line x1="413.9" y1="77.7" x2="419.4" y2="75.7" stroke-opacity="0.32" stroke-width="1.7"/>
<line x1="414.2" y1="86.1" x2="420.2" y2="83.7" stroke-opacity="0.34" stroke-width="1.7"/>
<line x1="404.5" y1="94.1" x2="410.6" y2="91.7" stroke-opacity="0.42" stroke-width="1.7"/>
<line x1="422.1" y1="103.6" x2="429.4" y2="100.6" stroke-opacity="0.33" stroke-width="1.7"/>
<line x1="478.2" y1="100.3" x2="485.0" y2="98.5" stroke-opacity="0.40" stroke-width="1.7"/>
<line x1="486.6" y1="87.6" x2="493.5" y2="86.4" stroke-opacity="0.38" stroke-width="1.7"/>
<line x1="475.5" y1="102.4" x2="484.8" y2="100.2" stroke-opacity="0.50" stroke-width="1.7"/>
<line x1="460.4" y1="99.8" x2="466.0" y2="98.4" stroke-opacity="0.31" stroke-width="1.7"/>
<line x1="483.2" y1="99.9" x2="488.7" y2="98.4" stroke-opacity="0.35" stroke-width="1.7"/>
<line x1="470.7" y1="93.3" x2="476.0" y2="91.5" stroke-opacity="0.36" stroke-width="1.7"/>
<line x1="469.2" y1="81.4" x2="474.1" y2="80.3" stroke-opacity="0.37" stroke-width="1.7"/>
<line x1="485.6" y1="101.4" x2="492.7" y2="99.5" stroke-opacity="0.43" stroke-width="1.7"/>
<line x1="483.2" y1="88.1" x2="491.9" y2="85.9" stroke-opacity="0.42" stroke-width="1.7"/>
<line x1="479.1" y1="92.0" x2="487.2" y2="89.6" stroke-opacity="0.30" stroke-width="1.7"/>
<line x1="455.3" y1="83.6" x2="461.3" y2="82.3" stroke-opacity="0.31" stroke-width="1.7"/>
<line x1="461.4" y1="94.4" x2="470.6" y2="92.2" stroke-opacity="0.37" stroke-width="1.7"/>
<line x1="468.2" y1="96.3" x2="476.6" y2="93.4" stroke-opacity="0.38" stroke-width="1.7"/>
<line x1="478.0" y1="88.2" x2="486.9" y2="86.3" stroke-opacity="0.47" stroke-width="1.7"/>
<line x1="472.2" y1="74.5" x2="477.6" y2="73.2" stroke-opacity="0.22" stroke-width="1.5"/>
<line x1="457.6" y1="60.9" x2="463.0" y2="59.4" stroke-opacity="0.27" stroke-width="1.5"/>
<line x1="456.6" y1="71.1" x2="461.9" y2="69.6" stroke-opacity="0.26" stroke-width="1.5"/>
<line x1="472.8" y1="71.3" x2="478.1" y2="69.7" stroke-opacity="0.19" stroke-width="1.5"/>
</g>
<ellipse cx="441" cy="63" rx="12" ry="14" fill="url(#mvg0)"/>
<ellipse cx="440" cy="90" rx="9" ry="10" fill="url(#mvg1)"/>
<rect x="390" y="38" width="104.2" height="79.5" fill="url(#mvv)"/>
</g>
<text x="285.6" y="49" font-size="10" fill="#fff">Control</text>
<text x="392.5" y="49" font-size="10" fill="#fff">Vegfd KO</text>
<rect x="372" y="110" width="10" height="2.6" fill="#fff"/>
<rect x="478.5" y="110" width="10.3" height="2.6" fill="#fff"/>
<!-- dashed ROIs -->
<g fill="none" stroke="#fff" stroke-width="1.2" stroke-dasharray="1.3 1.5">
  <path d="M327.5 54.5 H339.3 Q341 54.5 341 56.3 L341.8 101.2 Q341.8 103 340 103 H327 Q325.2 103 325.2 101.2 L325.6 56.3 Q325.6 54.5 327.5 54.5 Z"/>
  <path d="M434 53.3 H448.3 Q450 53.3 450 55 L450.8 101 Q450.8 102.8 449 102.8 H433.5 Q431.7 102.8 431.7 101 L432.2 55 Q432.2 53.3 434 53.3 Z"/>
</g>
<circle cx="451.8" cy="51.8" r="1.1" fill="#fff" opacity="0.85"/>
<!-- yellow arrows -->
<g stroke="#f0e21c" stroke-width="1.5" fill="#f0e21c">
  <line x1="345.9" y1="51.7" x2="338.1" y2="63.1"/>
  <polygon points="335.2,67.4 336.2,60.8 341.0,64.1" stroke="none"/>
  <line x1="454.6" y1="60.3" x2="448.6" y2="67.0"/>
  <polygon points="445.1,70.9 446.9,64.5 451.3,68.4" stroke="none"/>
  <line x1="449.9" y1="104.3" x2="445.7" y2="96.5"/>
  <polygon points="443.2,91.9 448.6,95.8 443.5,98.6" stroke="none"/>
</g>
<text x="283.1" y="129.8" font-size="10.2" fill="#5ba63c" textLength="50.6" lengthAdjust="spacingAndGlyphs">Lymph flow</text>
<line x1="337.9" y1="126.5" x2="355" y2="126.5" stroke="#4f9c30" stroke-width="1.3"/>
<polygon points="360.4,126.5 352.6,123.2 354.8,126.5 352.6,129.8" fill="#4f9c30"/>

<!-- ===== Panel C ===== -->
<g stroke="#222" stroke-width="1.3" fill="none">
  <path d="M65.8 164.2 V287.6 M65.2 287 H252.6"/>
  <path d="M62.5 175.2 H65.8 M62.5 203.2 H65.8 M62.5 231.1 H65.8 M62.5 259.1 H65.8 M62.5 287 H65.8"/>
  <path d="M66.0 287 V290 M102.8 287 V290 M139.6 287 V290 M176.4 287 V290 M213.2 287 V290 M250.0 287 V290"/>
</g>
<g class="dk" font-size="9.3" fill="#151515" text-anchor="end">
  <text x="59" y="178" textLength="13.08" lengthAdjust="spacingAndGlyphs">100</text>
  <text x="59" y="233.9" textLength="8.72" lengthAdjust="spacingAndGlyphs">50</text>
  <text x="59" y="289.8" textLength="4.36" lengthAdjust="spacingAndGlyphs">0</text>
</g>
<g class="dk" font-size="9.3" fill="#151515" text-anchor="middle">
  <text x="65.8" y="300.5" textLength="4.36" lengthAdjust="spacingAndGlyphs">0</text>
  <text x="102.8" y="300.5" textLength="4.36" lengthAdjust="spacingAndGlyphs">5</text>
  <text x="139.6" y="300.5" textLength="8.72" lengthAdjust="spacingAndGlyphs">10</text>
  <text x="176.4" y="300.5" textLength="8.72" lengthAdjust="spacingAndGlyphs">15</text>
  <text x="213.2" y="300.5" textLength="8.72" lengthAdjust="spacingAndGlyphs">20</text>
  <text x="250.0" y="300.5" textLength="8.72" lengthAdjust="spacingAndGlyphs">25</text>
</g>
<text x="131.7" y="313.7" class="dk" font-size="9.8" fill="#151515" textLength="56" lengthAdjust="spacingAndGlyphs">Days post-injury</text>
<g class="dk" font-size="9.6" fill="#151515" text-anchor="middle">
  <text transform="translate(27.6 224.5) rotate(-90)" textLength="74" lengthAdjust="spacingAndGlyphs">% mice with restored</text>
  <text transform="translate(39.5 225) rotate(-90)" textLength="77" lengthAdjust="spacingAndGlyphs">collecting vessel flow</text>
</g>
<!-- legend C -->
<line x1="75" y1="174.8" x2="85.6" y2="174.8" stroke="#a50a34" stroke-width="1.8"/>
<line x1="75" y1="190.2" x2="85.6" y2="190.2" stroke="#4a9a2a" stroke-width="1.6" stroke-dasharray="2.2 2.2"/>
<g class="dk" font-size="8" fill="#151515">
  <text x="89.2" y="177.7">Control (n=12)</text>
  <text x="89.2" y="193">Vegfd KO (n=9)</text>
</g>
<!-- data C -->
<path d="M117.5 237.4 H132.2 V212.3 H154.3 V187.4 H176.4 V175.4 H220" fill="none" stroke="#4a9a2a" stroke-width="1.6" stroke-dasharray="2.2 2.2"/>
<path d="M65.8 287 H117.5 V240.3 H132.2 V203.2 H154.3 V184.4 H176.4 V175.4 H221.4" fill="none" stroke="#a50a34" stroke-width="1.8"/>

<!-- ===== Panel D ===== -->
<g stroke="#222" stroke-width="1.3" fill="none">
  <path d="M328.8 167.9 V287.6 M328.2 287 H510.3"/>
  <path d="M325.8 178.4 H328.8 M325.8 205.5 H328.8 M325.8 232.7 H328.8 M325.8 259.8 H328.8 M325.8 287 H328.8"/>
  <path d="M328.8 287 V290 M364.8 287 V290 M400.8 287 V290 M436.5 287 V290 M472.4 287 V290 M508.4 287 V290"/>
</g>
<g class="dk" font-size="9.3" fill="#151515" text-anchor="end">
  <text x="322.3" y="181.2" textLength="13.08" lengthAdjust="spacingAndGlyphs">100</text>
  <text x="322.3" y="235.5" textLength="8.72" lengthAdjust="spacingAndGlyphs">50</text>
  <text x="322.3" y="289.8" textLength="4.36" lengthAdjust="spacingAndGlyphs">0</text>
</g>
<g class="dk" font-size="9.3" fill="#151515" text-anchor="middle">
  <text x="328.8" y="300.5" textLength="4.36" lengthAdjust="spacingAndGlyphs">0</text>
  <text x="364.8" y="300.5" textLength="4.36" lengthAdjust="spacingAndGlyphs">5</text>
  <text x="400.8" y="300.5" textLength="8.72" lengthAdjust="spacingAndGlyphs">10</text>
  <text x="436.8" y="300.5" textLength="8.72" lengthAdjust="spacingAndGlyphs">15</text>
  <text x="472.6" y="300.5" textLength="8.72" lengthAdjust="spacingAndGlyphs">20</text>
  <text x="508.4" y="300.5" textLength="8.72" lengthAdjust="spacingAndGlyphs">25</text>
</g>
<text x="392" y="314.2" class="dk" font-size="9.8" fill="#151515" textLength="56" lengthAdjust="spacingAndGlyphs">Days post-injury</text>
<g class="dk" font-size="9.6" fill="#151515" text-anchor="middle">
  <text transform="translate(291 226) rotate(-90)" textLength="74" lengthAdjust="spacingAndGlyphs">% mice with restored</text>
  <text transform="translate(303 227) rotate(-90)" textLength="75.5" lengthAdjust="spacingAndGlyphs">collecting vessel flow</text>
</g>
<!-- legend D -->
<line x1="340.4" y1="175.2" x2="351.3" y2="175.2" stroke="#1f3d7c" stroke-width="1.7"/>
<line x1="340.4" y1="191" x2="351.3" y2="191" stroke="#4a9a2a" stroke-width="1.6" stroke-dasharray="2.2 2.2"/>
<g class="dk" font-size="8" fill="#151515">
  <text x="354.4" y="178">Vegfc cKO (n=14)</text>
  <text x="354.4" y="194">Vegfc cKO; Vegfd KO (n=5)</text>
</g>
<!-- data D -->
<path d="M414.9 265.3 H458.1 V221.8 H479.7 V200" fill="none" stroke="#4a9a2a" stroke-width="1.6" stroke-dasharray="2.2 2.2"/>
<path d="M328.8 287 H414.9 V263.8 H436.5 V240.4 H479.7 V224.9" fill="none" stroke="#1f3d7c" stroke-width="1.7"/>
<path d="M480.5 200 H492.2 M480.5 224.9 H492.2" stroke="#111" stroke-width="1.4" stroke-dasharray="2.2 2"/>
<path d="M491.5 200 H492.2 V224.9 H491.5" stroke="#111" stroke-width="1.4" fill="none"/>
<text class="dk" x="495.6" y="215" font-size="8" fill="#151515">ns</text>

<!-- ===== Panel A ===== -->
<g id="mouse1">
  <!-- tail -->
  <path d="M19.5 75.6 C23 78 26.5 74.5 30.5 70.6 C33.5 67.6 36.5 66.4 42 66.4" fill="none" stroke="#333" stroke-width="2.6" stroke-linecap="round"/>
  <path d="M20.5 75.6 C23.5 77 26.8 74 30.7 70.3 C33.6 67.5 36.6 66.4 42 66.4" fill="none" stroke="currentColor" stroke-width="1.0"/>
  <!-- body + head -->
  <path d="M35.6 86.5 A14.5 14.5 0 0 1 64.4 86.5 L66 92 C66.5 97 62 103 56 108 C53.5 110 51.5 110.8 50 110.8 C48.5 110.8 46.5 110 44 108 C38 103 33.5 97 34 92 Z" fill="currentColor" stroke="#222" stroke-width="0.9"/>
  <!-- ears -->
  <path d="M34 95.3 A6.8 6.8 0 1 1 46.8 93.8" fill="currentColor" stroke="#222" stroke-width="0.9"/>
  <path d="M66 95.3 A6.8 6.8 0 1 0 53.2 93.8" fill="currentColor" stroke="#222" stroke-width="0.9"/>
  <path d="M35 93.6 C35.5 87.2 43.8 84.3 46.3 91.8 C43.5 89.3 38 89.8 35 93.6 Z" fill="var(--ear)"/>
  <path d="M65 93.6 C64.5 87.2 56.2 84.3 53.7 91.8 C56.5 89.3 62 89.8 65 93.6 Z" fill="var(--ear)"/>
  <!-- head lower outline over ears -->
  <path d="M34.1 94.5 C35.5 98.5 40.5 102 44.3 106.3 C46.3 108.8 48.5 110.6 50 110.6 C51.5 110.6 53.7 108.8 55.7 106.3 C59.5 102 64.5 98.5 65.9 94.5" fill="currentColor" stroke="#222" stroke-width="1"/>
  <!-- eyes -->
  <circle cx="45.8" cy="101.2" r="1.2" fill="var(--eye)"/>
  <circle cx="54.2" cy="101.2" r="1.2" fill="var(--eye)"/>
  <!-- snout -->
  <path d="M45.5 106.2 C47.5 109.6 52.5 109.6 54.5 106.2" fill="none" stroke="#111" stroke-width="1.2"/>
  <ellipse cx="50" cy="107.6" rx="1.4" ry="1.1" fill="#000"/>
  <!-- whiskers -->
  <g stroke="#555" stroke-width="0.5" fill="none">
    <path d="M46.5 106.5 L38.5 103.8 M46.5 106.8 L38 106.6 M46.7 107.2 L39.2 109.8 M47 107.5 L41 111.5"/>
    <path d="M53.5 106.5 L61.5 103.8 M53.5 106.8 L62 106.6 M53.3 107.2 L60.8 109.8 M53 107.5 L59 111.5"/>
  </g>
  <!-- box + dot -->
  <path d="M48.5 71 L52 73" stroke="#333" stroke-width="1"/><rect x="41.4" y="63.4" width="8.3" height="7.9" fill="none" stroke="#333" stroke-width="1" transform="rotate(-9 45.5 67.4)"/>
  <circle cx="44.5" cy="68" r="2.4" fill="#e0141e"/>
  <!-- dashed leaders -->
  <path d="M49 63.4 L83.2 46.3 M51 72.5 L83.2 77.4" stroke="#1a1a1a" stroke-width="1.15" stroke-dasharray="2.4 2" fill="none"/>
</g>
<use href="#mouse1" x="124.2" style="color:#a3a3a3;--ear:#6e6e6e;--eye:#505050"/>
<g id="inset1">
  <rect x="83.2" y="46.1" width="45.6" height="31.4" fill="#fff" stroke="#111" stroke-width="1.4"/>
  <g clip-path="url(#cyl)">
    <rect x="86" y="47" width="36" height="29" fill="url(#hex)"/>
    <rect x="86" y="58.2" width="32" height="1" fill="#f4f0a0"/>
    <rect x="86" y="56.8" width="32" height="1.3" fill="#3f55b5"/>
    <rect x="86" y="59.1" width="32" height="1.1" fill="#f0a0ac"/>
    <rect x="86" y="61.1" width="32" height="2.8" fill="#80d2e6"/>
    <rect x="86" y="64.7" width="32" height="1.1" fill="#4058b8"/>
    <rect x="108" y="56" width="10" height="11" fill="#fff" opacity="0.55"/>
  </g>
  <path d="M121.5 48.4 H90 C87.8 48.4 86.8 55 86.8 61.7 C86.8 68.4 87.8 75 90 75 H121.5" fill="none" stroke="#111" stroke-width="1"/>
  <ellipse cx="121.5" cy="61.7" rx="4.2" ry="13.3" fill="#fff" stroke="#111" stroke-width="1"/>
  <path d="M101.5 51.8 C103.5 51.2 106 51.2 107.8 51.7 C108.8 52 108.6 53.5 108.2 54.5 C106.6 58.5 106.2 65 108 70 C108.5 71.5 108 72.4 106.5 72.3 C104.5 72.2 102.3 72 100.8 71.4 C99.8 71 99.3 69.5 99.2 67.5 C98.9 63 99 58 99.8 54 C100.1 52.7 100.6 52 101.5 51.8 Z" fill="#962a48" stroke="#c61e2a" stroke-width="1.3"/>
  <path d="M101.5 51.8 C103.5 51.2 106 51.2 107.8 51.7 C108.8 52 108.6 53.5 108.2 54.5 C106.6 58.5 106.2 65 108 70 C108.5 71.5 108 72.4 106.5 72.3 C104.5 72.2 102.3 72 100.8 71.4 C99.8 71 99.3 69.5 99.2 67.5 C98.9 63 99 58 99.8 54 C100.1 52.7 100.6 52 101.5 51.8 Z" fill="none" stroke="#3a0a10" stroke-width="0.4"/>
</g>
<use href="#inset1" x="124"/>
<text class="dk" x="35.8" y="122.4" font-size="9" fill="#1a1a1a">Control</text>
<text class="dk" x="156.2" y="122.5" font-size="9" fill="#1a1a1a" textLength="36.4" lengthAdjust="spacingAndGlyphs">Vegfd KO</text>
</svg>
</body></html>
